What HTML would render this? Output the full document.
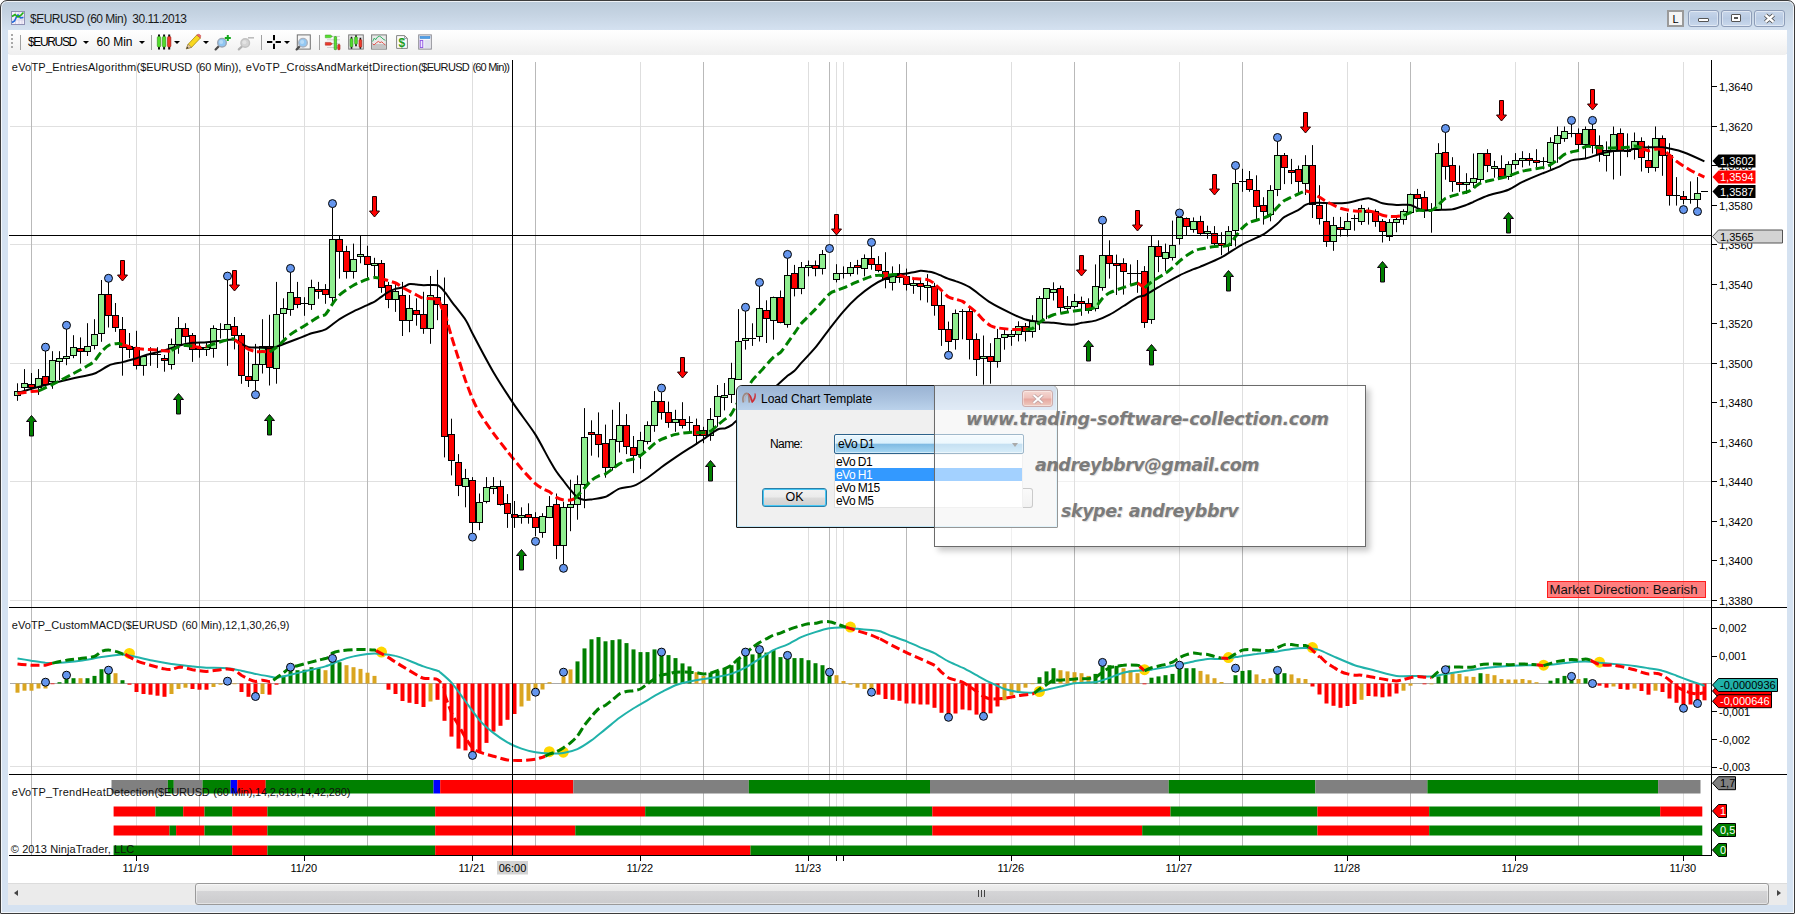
<!DOCTYPE html>
<html><head><meta charset="utf-8"><title>$EURUSD (60 Min)</title>
<style>
html,body{margin:0;padding:0;}
body{width:1795px;height:914px;overflow:hidden;background:#fff;position:relative;font-family:"Liberation Sans",sans-serif;}
#win{position:absolute;left:0;top:0;width:1793px;height:912px;border:1px solid #3c3c3c;border-radius:7px 7px 1px 1px;
 background:linear-gradient(#bacad9 0px,#c7d5e4 15px,#d5e2f1 30px,#d5e2f1 100%);box-shadow:inset 0 0 0 1px rgba(255,255,255,.75);}
#title{position:absolute;left:30px;top:10.5px;font-size:12px;color:#1a1a1a;white-space:pre;line-height:16px;letter-spacing:-0.5px;word-spacing:0px;}
#tb{position:absolute;left:8px;top:30px;width:1779px;height:25px;background:linear-gradient(#ffffff,#fbfbfb 30%,#efefef);border-radius:0 0 3px 3px;}
#chartbg{position:absolute;left:8px;top:54px;width:1779px;height:851px;background:#fff;}
.cb{position:absolute;top:10px;height:15px;border:1px solid #8d9db8;border-radius:3px;background:linear-gradient(#c7d6ea,#b9cbe3 50%,#c9d8ec);box-shadow:inset 0 0 0 1px rgba(255,255,255,.45);}
  .tbt{position:absolute;top:4px;font-size:12px;letter-spacing:-0.5px;line-height:16px;color:#000;white-space:pre;}
.sep{position:absolute;top:5px;width:1px;height:15px;background:#a0a0a0;}
.dd{position:absolute;top:11px;width:0;height:0;border-left:3px solid transparent;border-right:3px solid transparent;border-top:3px solid #000;}
svg{position:absolute;left:0;top:0;}
</style></head><body>
<div id="win"></div>
<div id="chartbg"></div>
<div id="tb"></div>
<svg style="left:11px;top:11px" width="14" height="14" viewBox="0 0 14 14"><rect x=".5" y=".5" width="13" height="13" fill="#f4f0fa" stroke="#8f90b4"/><path d="M4.5,1v12M8,1v12M11,1v12M1,5h12M1,9h12" stroke="#d8d4e8" stroke-width="1"/><path d="M1,11.5 L3.5,10 L5.5,6 L7,4 L9.5,7 L12.5,6.5" fill="none" stroke="#1e66d8" stroke-width="1.6"/><path d="M1,5.5 L4,3.5 L7,6 L9.5,4.5 L12.5,1.5" fill="none" stroke="#22b014" stroke-width="1.6"/></svg>
<div id="title">$EURUSD (60 Min)  30.11.2013</div>
<div style="position:absolute;left:1667px;top:10px;width:13px;height:13px;border:2px solid #9a9a9a;background:#f4f4f4;font-size:11px;line-height:15px;text-align:center;color:#000">L</div>
<div class="cb" style="left:1688px;width:29px"><div style="position:absolute;left:9px;top:7px;width:9px;height:2px;border:1px solid #555;background:#fff;border-radius:1px"></div></div>
<div class="cb" style="left:1721px;width:29px"><div style="position:absolute;left:9px;top:3px;width:8px;height:6px;border:1px solid #555;background:#fff;border-radius:1px"></div><div style="position:absolute;left:12px;top:6px;width:4px;height:2px;border:1px solid #555;box-sizing:border-box"></div></div>
<div class="cb" style="left:1754px;width:29px"><svg style="left:8px;top:2px" width="13" height="11" viewBox="0 0 13 11"><path d="M2.5,2 L10.5,9 M10.5,2 L2.5,9" stroke="#4a4a4a" stroke-width="4.2"/><path d="M2.5,2 L10.5,9 M10.5,2 L2.5,9" stroke="#fff" stroke-width="2.4"/></svg></div>
<div style="position:absolute;left:11px;top:34px;width:2px;height:16px;background:repeating-linear-gradient(#a8a8a8 0 2px,transparent 2px 4px)"></div>
<div class="sep" style="left:20px;top:35px"></div>
<div class="tbt" style="left:28px;top:34px;letter-spacing:-1.35px">$EURUSD</div><div class="dd" style="left:83px;top:41px"></div>
<div class="tbt" style="left:96.5px;top:34px;letter-spacing:0px">60 Min</div><div class="dd" style="left:139px;top:41px"></div>
<div class="sep" style="left:151px;top:35px"></div>
<svg width="460" height="60" viewBox="0 0 460 60"><path d="M159,34.5v15M164.1,34.5v15M169.2,34.5v15" stroke="#111" stroke-width="2"/><rect x="157.3" y="36.5" width="3.4" height="10.5" rx="1.2" fill="#52dd2c" stroke="#2f8a18" stroke-width=".6"/><rect x="162.4" y="36.5" width="3.4" height="10.5" rx="1.2" fill="#52dd2c" stroke="#2f8a18" stroke-width=".6"/><rect x="167.5" y="36.5" width="3.4" height="10.5" rx="1.2" fill="#ee3a2c" stroke="#9a1d12" stroke-width=".6"/><path d="M186.3,48.8 L188.2,44.2 L196.8,35 L200.4,38 L191.6,47.3 Z" fill="#f8d820" stroke="#a8860c" stroke-width=".8"/><path d="M196.8,35 L198,34.2 Q199.5,34 200.8,35.6 L200.4,38 Z" fill="#ef6a6a" stroke="#b44" stroke-width=".5"/><path d="M186.3,48.8 L188.2,44.2 L191.6,47.3 Z" fill="#e6c8a0" stroke="#7a6a4a" stroke-width=".5"/><path d="M186.3,48.8l1,-2.1 1.3,1.2z" fill="#333"/><path d="M215.6,49.4 L219,45.900000000000006" stroke="#4a4a4a" stroke-width="2.2" stroke-linecap="round"/><circle cx="222" cy="42.7" r="4.3" fill="#8fc6f2" stroke="#9aa4b4" stroke-width="1.4"/><circle cx="221.2" cy="41.900000000000006" r="2" fill="#fff" opacity=".35"/><path d="M227.8,35v6M224.8,38h6" stroke="#13a81c" stroke-width="2"/><path d="M238.8,49.4 L242.2,46.2" stroke="#b0b0b0" stroke-width="2.2" stroke-linecap="round"/><circle cx="245.2" cy="43" r="4.3" fill="#d4d4d4" stroke="#c2c2c2" stroke-width="1.4"/><circle cx="244.39999999999998" cy="42.2" r="2" fill="#fff" opacity=".35"/><path d="M248,37.8h6" stroke="#bdbdbd" stroke-width="1.6"/><path d="M267,42h5.3M275.6,42h5.3M274,35v5.3M274,43.8v5.3" stroke="#000" stroke-width="2"/><rect x="297.3" y="34.9" width="13" height="14.2" fill="#f6f6f6" stroke="#707070" stroke-width="1"/><path d="M296.6,49.4 L300,45.900000000000006" stroke="#4a4a4a" stroke-width="2.2" stroke-linecap="round"/><circle cx="303" cy="42.7" r="4.3" fill="#93c8f3" stroke="#a9b2c0" stroke-width="1.4"/><circle cx="302.2" cy="41.900000000000006" r="2" fill="#fff" opacity=".35"/><path d="M327,36.4h13M327,39.8h13M327,43.6h13M327,47.5h13" stroke="#d0d0d0" stroke-width="1"/><path d="M325.3,35 h5.2 l1.9,1.4 l-1.9,1.4 h-5.2 z" fill="#55e02f" stroke="#3a9a22" stroke-width=".5"/><path d="M325.3,42.4 h5.2 l1.9,1.4 l-1.9,1.4 h-5.2 z" fill="#ee3a2c" stroke="#a02218" stroke-width=".5"/><rect x="334.2" y="36.5" width="2.4" height="13.2" rx=".8" fill="#55e02f" stroke="#2f8a18" stroke-width=".6"/><rect x="337.8" y="44.5" width="2.2" height="5.2" rx=".6" fill="#ee3a2c" stroke="#9a1d12" stroke-width=".6"/><rect x="348.7" y="34.9" width="14.6" height="14.2" fill="#ececec" stroke="#7a7a7a" stroke-width="1"/><path d="M349.5,38h13M349.5,41h13M349.5,44h13M349.5,47h13" stroke="#d2d2d2" stroke-width=".8"/><path d="M351.5,36.8v12M356,35.2v11M360.4,37.8v11" stroke="#111" stroke-width="1.6"/><rect x="350.1" y="38.6" width="2.8" height="8.4" rx="1" fill="#52dd2c" stroke="#2f8a18" stroke-width=".5"/><rect x="354.6" y="36.8" width="2.8" height="7.4" rx="1" fill="#52dd2c" stroke="#2f8a18" stroke-width=".5"/><rect x="359" y="39.6" width="2.8" height="7.6" rx="1" fill="#ee3a2c" stroke="#9a1d12" stroke-width=".5"/><rect x="371.6" y="34.9" width="14.8" height="14.2" fill="#e9e9e9" stroke="#7d7d7d" stroke-width="1"/><rect x="372.2" y="44" width="13.6" height="4.6" fill="#c4c4c4"/><path d="M372.6,41.5 L374.4,38 L375.6,39.8 L377.6,37 L379.4,36.2 L381,37 L383,39 L385.4,40.4" fill="none" stroke="#3bb56a" stroke-width="1"/><path d="M372.6,43.6 L374,45 L376.6,42.6 L378.4,41.4 L380,42.6 L381.8,41.8 L383.6,43.6 L385.4,45" fill="none" stroke="#e4534c" stroke-width="1"/><path d="M396.6,35.6 h8 l2.8,2.8 v10 h-10.8 z" fill="#fcfcfc" stroke="#858585" stroke-width="1"/><path d="M404.6,35.6 v2.8 h2.8" fill="none" stroke="#858585" stroke-width=".8"/><text x="401.8" y="47" font-size="12" font-weight="bold" font-family="Liberation Sans, sans-serif" fill="#1f9c22" text-anchor="middle">$</text><rect x="418.7" y="34.9" width="12.6" height="14.2" fill="#f7f7fc" stroke="#8a8a92" stroke-width="1"/><rect x="420" y="36.2" width="10" height="2.5" fill="#4f9fe6" stroke="#3a7fc8" stroke-width=".4"/><rect x="420.2" y="40.4" width="2.6" height="7.2" fill="#efe6ff" stroke="#8a4fe0" stroke-width=".9"/><path d="M424.4,41h5.6M424.4,43h5.6M424.4,45h5.6M424.4,47h5.6" stroke="#c8cce4" stroke-width="1"/></svg><div class="dd" style="left:174px;top:41px"></div><div class="dd" style="left:203px;top:41px"></div>
<div class="sep" style="left:261px;top:35px"></div>
<div class="dd" style="left:284px;top:41px"></div>
<div class="sep" style="left:319px;top:35px"></div>


<svg width="1795" height="914" viewBox="0 0 1795 914" shape-rendering="auto"><line x1="10" y1="126.5" x2="1711.5" y2="126.5" stroke="#e0e0e0"/>
<line x1="10" y1="244.5" x2="1711.5" y2="244.5" stroke="#e0e0e0"/>
<line x1="10" y1="363.5" x2="1711.5" y2="363.5" stroke="#e0e0e0"/>
<line x1="10" y1="481.5" x2="1711.5" y2="481.5" stroke="#e0e0e0"/>
<line x1="10" y1="600.5" x2="1711.5" y2="600.5" stroke="#e0e0e0"/>
<line x1="10" y1="766.5" x2="1711.5" y2="766.5" stroke="#e0e0e0"/>
<line x1="136.5" y1="62" x2="136.5" y2="855" stroke="#dedede"/>
<line x1="304.5" y1="62" x2="304.5" y2="855" stroke="#dedede"/>
<line x1="472.5" y1="62" x2="472.5" y2="855" stroke="#dedede"/>
<line x1="640.5" y1="62" x2="640.5" y2="855" stroke="#dedede"/>
<line x1="808.5" y1="62" x2="808.5" y2="855" stroke="#dedede"/>
<line x1="836.5" y1="62" x2="836.5" y2="855" stroke="#dedede"/>
<line x1="843.5" y1="62" x2="843.5" y2="855" stroke="#dedede"/>
<line x1="1011.5" y1="62" x2="1011.5" y2="855" stroke="#dedede"/>
<line x1="1179.5" y1="62" x2="1179.5" y2="855" stroke="#dedede"/>
<line x1="1347.5" y1="62" x2="1347.5" y2="855" stroke="#dedede"/>
<line x1="1515.5" y1="62" x2="1515.5" y2="855" stroke="#dedede"/>
<line x1="1683.5" y1="62" x2="1683.5" y2="855" stroke="#dedede"/>
<line x1="31.5" y1="62" x2="31.5" y2="855" stroke="#b9b9b9"/>
<line x1="199.5" y1="62" x2="199.5" y2="855" stroke="#b9b9b9"/>
<line x1="367.5" y1="62" x2="367.5" y2="855" stroke="#b9b9b9"/>
<line x1="535.5" y1="62" x2="535.5" y2="855" stroke="#b9b9b9"/>
<line x1="703.5" y1="62" x2="703.5" y2="855" stroke="#b9b9b9"/>
<line x1="829.5" y1="62" x2="829.5" y2="855" stroke="#b9b9b9"/>
<line x1="906.5" y1="62" x2="906.5" y2="855" stroke="#b9b9b9"/>
<line x1="1074.5" y1="62" x2="1074.5" y2="855" stroke="#b9b9b9"/>
<line x1="1242.5" y1="62" x2="1242.5" y2="855" stroke="#b9b9b9"/>
<line x1="1410.5" y1="62" x2="1410.5" y2="855" stroke="#b9b9b9"/>
<line x1="1578.5" y1="62" x2="1578.5" y2="855" stroke="#b9b9b9"/>
<line x1="10" y1="683.5" x2="1711.5" y2="683.5" stroke="#a9a9a9"/>
<rect x="111.5" y="780" width="56.3" height="13.5" fill="#808080"/>
<rect x="167.8" y="780" width="6" height="13.5" fill="#008000"/>
<rect x="173.8" y="780" width="28.7" height="13.5" fill="#808080"/>
<rect x="202.5" y="780" width="28.1" height="13.5" fill="#008000"/>
<rect x="230.6" y="780" width="6.7" height="13.5" fill="#0000ff"/>
<rect x="237.3" y="780" width="28.4" height="13.5" fill="#ff0000"/>
<rect x="265.7" y="780" width="167.8" height="13.5" fill="#008000"/>
<rect x="433.5" y="780" width="6.7" height="13.5" fill="#0000ff"/>
<rect x="440.2" y="780" width="133.1" height="13.5" fill="#ff0000"/>
<rect x="573.3" y="780" width="175.5" height="13.5" fill="#808080"/>
<rect x="748.8" y="780" width="181.2" height="13.5" fill="#008000"/>
<rect x="930" y="780" width="238.7" height="13.5" fill="#808080"/>
<rect x="1168.7" y="780" width="146.6" height="13.5" fill="#008000"/>
<rect x="1315.3" y="780" width="112.1" height="13.5" fill="#808080"/>
<rect x="1427.4" y="780" width="230.7" height="13.5" fill="#008000"/>
<rect x="1658.1" y="780" width="42.4" height="13.5" fill="#808080"/>
<rect x="113.6" y="806.5" width="41.8" height="10" fill="#ff0000"/>
<rect x="155.4" y="806.5" width="27.8" height="10" fill="#008000"/>
<rect x="183.2" y="806.5" width="21.3" height="10" fill="#ff0000"/>
<rect x="204.5" y="806.5" width="27.8" height="10" fill="#008000"/>
<rect x="232.3" y="806.5" width="35.1" height="10" fill="#ff0000"/>
<rect x="267.4" y="806.5" width="167.8" height="10" fill="#008000"/>
<rect x="435.2" y="806.5" width="210" height="10" fill="#ff0000"/>
<rect x="645.2" y="806.5" width="287.1" height="10" fill="#008000"/>
<rect x="932.3" y="806.5" width="238.2" height="10" fill="#ff0000"/>
<rect x="1170.5" y="806.5" width="146.9" height="10" fill="#008000"/>
<rect x="1317.4" y="806.5" width="111.8" height="10" fill="#ff0000"/>
<rect x="1429.2" y="806.5" width="231" height="10" fill="#008000"/>
<rect x="1660.2" y="806.5" width="42.1" height="10" fill="#ff0000"/>
<rect x="113.6" y="825.5" width="55.9" height="10" fill="#ff0000"/>
<rect x="169.5" y="825.5" width="6.6" height="10" fill="#008000"/>
<rect x="176.1" y="825.5" width="28.4" height="10" fill="#ff0000"/>
<rect x="204.5" y="825.5" width="27.8" height="10" fill="#008000"/>
<rect x="232.3" y="825.5" width="35.1" height="10" fill="#ff0000"/>
<rect x="267.4" y="825.5" width="167.8" height="10" fill="#008000"/>
<rect x="435.2" y="825.5" width="140.1" height="10" fill="#ff0000"/>
<rect x="575.3" y="825.5" width="357" height="10" fill="#008000"/>
<rect x="932.3" y="825.5" width="209.9" height="10" fill="#ff0000"/>
<rect x="1142.2" y="825.5" width="175.2" height="10" fill="#008000"/>
<rect x="1317.4" y="825.5" width="111.8" height="10" fill="#ff0000"/>
<rect x="1429.2" y="825.5" width="273.1" height="10" fill="#008000"/>
<rect x="113.6" y="845.5" width="118.7" height="10" fill="#008000"/>
<rect x="232.3" y="845.5" width="35.1" height="10" fill="#ff0000"/>
<rect x="267.4" y="845.5" width="167.8" height="10" fill="#008000"/>
<rect x="435.2" y="845.5" width="315.3" height="10" fill="#ff0000"/>
<rect x="750.5" y="845.5" width="951.8" height="10" fill="#008000"/>
<rect x="15.5" y="683.5" width="4" height="9.2" fill="#daa520"/>
<rect x="22.5" y="683.5" width="4" height="7.2" fill="#daa520"/>
<rect x="29.5" y="683.5" width="4" height="7.2" fill="#daa520"/>
<rect x="36.5" y="683.5" width="4" height="5" fill="#daa520"/>
<rect x="43.5" y="683.5" width="4" height="5" fill="#daa520"/>
<rect x="50.5" y="683.5" width="4" height="0.7" fill="#ff0000"/>
<rect x="57.5" y="682.2" width="4" height="1.3" fill="#008000"/>
<rect x="64.5" y="679" width="4" height="4.5" fill="#008000"/>
<rect x="71.5" y="678.2" width="4" height="5.3" fill="#008000"/>
<rect x="78.5" y="678.2" width="4" height="5.3" fill="#daa520"/>
<rect x="85.5" y="678.2" width="4" height="5.3" fill="#008000"/>
<rect x="92.5" y="675.9" width="4" height="7.6" fill="#008000"/>
<rect x="99.5" y="669.2" width="4" height="14.3" fill="#008000"/>
<rect x="106.5" y="673.9" width="4" height="9.6" fill="#008000"/>
<rect x="113.5" y="673.2" width="4" height="10.3" fill="#daa520"/>
<rect x="120.5" y="680.2" width="4" height="3.3" fill="#008000"/>
<rect x="127.5" y="683.5" width="4" height="1.2" fill="#ff0000"/>
<rect x="134.5" y="683.5" width="4" height="8.5" fill="#ff0000"/>
<rect x="141.5" y="683.5" width="4" height="10.5" fill="#ff0000"/>
<rect x="148.5" y="683.5" width="4" height="11.2" fill="#ff0000"/>
<rect x="155.5" y="683.5" width="4" height="12.2" fill="#ff0000"/>
<rect x="162.5" y="683.5" width="4" height="13.3" fill="#ff0000"/>
<rect x="169.5" y="683.5" width="4" height="10.5" fill="#daa520"/>
<rect x="176.5" y="683.5" width="4" height="5.5" fill="#daa520"/>
<rect x="183.5" y="683.5" width="4" height="4.2" fill="#daa520"/>
<rect x="190.5" y="683.5" width="4" height="5.5" fill="#ff0000"/>
<rect x="197.5" y="683.5" width="4" height="6.2" fill="#ff0000"/>
<rect x="204.5" y="683.5" width="4" height="6.2" fill="#ff0000"/>
<rect x="211.5" y="683.5" width="4" height="3.5" fill="#daa520"/>
<rect x="218.5" y="683.5" width="4" height="1.2" fill="#daa520"/>
<rect x="232.5" y="683.5" width="4" height="0.7" fill="#daa520"/>
<rect x="239.5" y="683.5" width="4" height="8.5" fill="#ff0000"/>
<rect x="246.5" y="683.5" width="4" height="13.3" fill="#ff0000"/>
<rect x="253.5" y="683.5" width="4" height="11.7" fill="#ff0000"/>
<rect x="260.5" y="683.5" width="4" height="10.5" fill="#daa520"/>
<rect x="267.5" y="683.5" width="4" height="11.2" fill="#ff0000"/>
<rect x="274.5" y="683.5" width="4" height="1.2" fill="#ff0000"/>
<rect x="281.5" y="675.7" width="4" height="7.8" fill="#008000"/>
<rect x="288.5" y="670.7" width="4" height="12.8" fill="#008000"/>
<rect x="295.5" y="670.2" width="4" height="13.3" fill="#008000"/>
<rect x="302.5" y="669.7" width="4" height="13.8" fill="#008000"/>
<rect x="309.5" y="667.2" width="4" height="16.3" fill="#008000"/>
<rect x="316.5" y="668.2" width="4" height="15.3" fill="#008000"/>
<rect x="323.5" y="670.2" width="4" height="13.3" fill="#daa520"/>
<rect x="330.5" y="660.7" width="4" height="22.8" fill="#008000"/>
<rect x="337.5" y="662.2" width="4" height="21.3" fill="#008000"/>
<rect x="344.5" y="665.2" width="4" height="18.3" fill="#daa520"/>
<rect x="351.5" y="667.2" width="4" height="16.3" fill="#daa520"/>
<rect x="358.5" y="668.9" width="4" height="14.6" fill="#daa520"/>
<rect x="365.5" y="672.7" width="4" height="10.8" fill="#daa520"/>
<rect x="372.5" y="675.9" width="4" height="7.6" fill="#daa520"/>
<rect x="386.5" y="683.5" width="4" height="6.2" fill="#ff0000"/>
<rect x="393.5" y="683.5" width="4" height="10.5" fill="#ff0000"/>
<rect x="400.5" y="683.5" width="4" height="17.5" fill="#ff0000"/>
<rect x="407.5" y="683.5" width="4" height="19.3" fill="#ff0000"/>
<rect x="414.5" y="683.5" width="4" height="20.5" fill="#ff0000"/>
<rect x="421.5" y="683.5" width="4" height="23.5" fill="#ff0000"/>
<rect x="428.5" y="683.5" width="4" height="18" fill="#daa520"/>
<rect x="435.5" y="683.5" width="4" height="16.3" fill="#ff0000"/>
<rect x="442.5" y="683.5" width="4" height="37.3" fill="#ff0000"/>
<rect x="449.5" y="683.5" width="4" height="53.1" fill="#ff0000"/>
<rect x="456.5" y="683.5" width="4" height="65.1" fill="#ff0000"/>
<rect x="463.5" y="683.5" width="4" height="66.9" fill="#ff0000"/>
<rect x="470.5" y="683.5" width="4" height="69.4" fill="#ff0000"/>
<rect x="477.5" y="683.5" width="4" height="68.2" fill="#ff0000"/>
<rect x="484.5" y="683.5" width="4" height="59.4" fill="#ff0000"/>
<rect x="491.5" y="683.5" width="4" height="48.1" fill="#ff0000"/>
<rect x="498.5" y="683.5" width="4" height="42.3" fill="#ff0000"/>
<rect x="505.5" y="683.5" width="4" height="36.3" fill="#ff0000"/>
<rect x="512.5" y="683.5" width="4" height="30.5" fill="#ff0000"/>
<rect x="519.5" y="683.5" width="4" height="23" fill="#daa520"/>
<rect x="526.5" y="683.5" width="4" height="17.3" fill="#daa520"/>
<rect x="533.5" y="683.5" width="4" height="8" fill="#daa520"/>
<rect x="540.5" y="683.5" width="4" height="6" fill="#daa520"/>
<rect x="547.5" y="682.2" width="4" height="1.3" fill="#daa520"/>
<rect x="561.5" y="676.4" width="4" height="7.1" fill="#daa520"/>
<rect x="568.5" y="669.4" width="4" height="14.1" fill="#daa520"/>
<rect x="575.5" y="661.4" width="4" height="22.1" fill="#008000"/>
<rect x="582.5" y="648.4" width="4" height="35.1" fill="#008000"/>
<rect x="589.5" y="639.3" width="4" height="44.2" fill="#008000"/>
<rect x="596.5" y="637.1" width="4" height="46.4" fill="#008000"/>
<rect x="603.5" y="641.3" width="4" height="42.2" fill="#008000"/>
<rect x="610.5" y="640.1" width="4" height="43.4" fill="#008000"/>
<rect x="617.5" y="639.3" width="4" height="44.2" fill="#008000"/>
<rect x="624.5" y="643.1" width="4" height="40.4" fill="#008000"/>
<rect x="631.5" y="649.4" width="4" height="34.1" fill="#008000"/>
<rect x="638.5" y="652.1" width="4" height="31.4" fill="#008000"/>
<rect x="645.5" y="652.1" width="4" height="31.4" fill="#008000"/>
<rect x="652.5" y="649.4" width="4" height="34.1" fill="#008000"/>
<rect x="659.5" y="652.6" width="4" height="30.9" fill="#008000"/>
<rect x="666.5" y="655.1" width="4" height="28.4" fill="#008000"/>
<rect x="673.5" y="658.1" width="4" height="25.4" fill="#008000"/>
<rect x="680.5" y="663.4" width="4" height="20.1" fill="#008000"/>
<rect x="687.5" y="666.4" width="4" height="17.1" fill="#008000"/>
<rect x="694.5" y="672.2" width="4" height="11.3" fill="#daa520"/>
<rect x="701.5" y="675.9" width="4" height="7.6" fill="#daa520"/>
<rect x="708.5" y="672.7" width="4" height="10.8" fill="#008000"/>
<rect x="715.5" y="670.7" width="4" height="12.8" fill="#008000"/>
<rect x="722.5" y="668.2" width="4" height="15.3" fill="#008000"/>
<rect x="729.5" y="665.2" width="4" height="18.3" fill="#008000"/>
<rect x="736.5" y="658.9" width="4" height="24.6" fill="#008000"/>
<rect x="743.5" y="653.9" width="4" height="29.6" fill="#008000"/>
<rect x="750.5" y="654.4" width="4" height="29.1" fill="#008000"/>
<rect x="757.5" y="651.4" width="4" height="32.1" fill="#008000"/>
<rect x="764.5" y="652.6" width="4" height="30.9" fill="#008000"/>
<rect x="771.5" y="650.1" width="4" height="33.4" fill="#008000"/>
<rect x="778.5" y="657.1" width="4" height="26.4" fill="#008000"/>
<rect x="785.5" y="656.4" width="4" height="27.1" fill="#008000"/>
<rect x="792.5" y="658.1" width="4" height="25.4" fill="#008000"/>
<rect x="799.5" y="658.1" width="4" height="25.4" fill="#008000"/>
<rect x="806.5" y="660.2" width="4" height="23.3" fill="#008000"/>
<rect x="813.5" y="663.2" width="4" height="20.3" fill="#008000"/>
<rect x="820.5" y="665.2" width="4" height="18.3" fill="#008000"/>
<rect x="827.5" y="670.2" width="4" height="13.3" fill="#008000"/>
<rect x="834.5" y="675.2" width="4" height="8.3" fill="#daa520"/>
<rect x="841.5" y="681" width="4" height="2.5" fill="#daa520"/>
<rect x="848.5" y="683.5" width="4" height="1.2" fill="#daa520"/>
<rect x="855.5" y="683.5" width="4" height="4.2" fill="#daa520"/>
<rect x="862.5" y="683.5" width="4" height="5.5" fill="#daa520"/>
<rect x="869.5" y="683.5" width="4" height="6.7" fill="#daa520"/>
<rect x="876.5" y="683.5" width="4" height="11.2" fill="#ff0000"/>
<rect x="883.5" y="683.5" width="4" height="15.5" fill="#ff0000"/>
<rect x="890.5" y="683.5" width="4" height="16.3" fill="#ff0000"/>
<rect x="897.5" y="683.5" width="4" height="17.3" fill="#ff0000"/>
<rect x="904.5" y="683.5" width="4" height="20" fill="#ff0000"/>
<rect x="911.5" y="683.5" width="4" height="20" fill="#ff0000"/>
<rect x="918.5" y="683.5" width="4" height="21" fill="#ff0000"/>
<rect x="925.5" y="683.5" width="4" height="21" fill="#ff0000"/>
<rect x="932.5" y="683.5" width="4" height="24.3" fill="#ff0000"/>
<rect x="939.5" y="683.5" width="4" height="29.3" fill="#ff0000"/>
<rect x="946.5" y="683.5" width="4" height="30.5" fill="#ff0000"/>
<rect x="953.5" y="683.5" width="4" height="30" fill="#ff0000"/>
<rect x="960.5" y="683.5" width="4" height="26" fill="#ff0000"/>
<rect x="967.5" y="683.5" width="4" height="26.8" fill="#ff0000"/>
<rect x="974.5" y="683.5" width="4" height="31.1" fill="#ff0000"/>
<rect x="981.5" y="683.5" width="4" height="30.5" fill="#ff0000"/>
<rect x="988.5" y="683.5" width="4" height="29.8" fill="#ff0000"/>
<rect x="995.5" y="683.5" width="4" height="23" fill="#ff0000"/>
<rect x="1002.5" y="683.5" width="4" height="16.8" fill="#daa520"/>
<rect x="1009.5" y="683.5" width="4" height="11.7" fill="#daa520"/>
<rect x="1016.5" y="683.5" width="4" height="8" fill="#daa520"/>
<rect x="1023.5" y="683.5" width="4" height="4.2" fill="#daa520"/>
<rect x="1030.5" y="683.5" width="4" height="0.7" fill="#daa520"/>
<rect x="1037.5" y="677.2" width="4" height="6.3" fill="#008000"/>
<rect x="1044.5" y="671.4" width="4" height="12.1" fill="#008000"/>
<rect x="1051.5" y="668.2" width="4" height="15.3" fill="#008000"/>
<rect x="1058.5" y="670.2" width="4" height="13.3" fill="#daa520"/>
<rect x="1065.5" y="671.4" width="4" height="12.1" fill="#daa520"/>
<rect x="1072.5" y="672.2" width="4" height="11.3" fill="#daa520"/>
<rect x="1079.5" y="673.2" width="4" height="10.3" fill="#daa520"/>
<rect x="1086.5" y="675.9" width="4" height="7.6" fill="#daa520"/>
<rect x="1093.5" y="673.9" width="4" height="9.6" fill="#008000"/>
<rect x="1100.5" y="665.2" width="4" height="18.3" fill="#008000"/>
<rect x="1107.5" y="665.2" width="4" height="18.3" fill="#008000"/>
<rect x="1114.5" y="665.9" width="4" height="17.6" fill="#008000"/>
<rect x="1121.5" y="668.2" width="4" height="15.3" fill="#daa520"/>
<rect x="1128.5" y="670.2" width="4" height="13.3" fill="#daa520"/>
<rect x="1135.5" y="673.2" width="4" height="10.3" fill="#daa520"/>
<rect x="1142.5" y="683.5" width="4" height="0.8" fill="#ff0000"/>
<rect x="1149.5" y="677.7" width="4" height="5.8" fill="#008000"/>
<rect x="1156.5" y="676.4" width="4" height="7.1" fill="#008000"/>
<rect x="1163.5" y="675.2" width="4" height="8.3" fill="#008000"/>
<rect x="1170.5" y="673.9" width="4" height="9.6" fill="#008000"/>
<rect x="1177.5" y="667.7" width="4" height="15.8" fill="#008000"/>
<rect x="1184.5" y="668.2" width="4" height="15.3" fill="#008000"/>
<rect x="1191.5" y="668.2" width="4" height="15.3" fill="#008000"/>
<rect x="1198.5" y="670.9" width="4" height="12.6" fill="#daa520"/>
<rect x="1205.5" y="674.4" width="4" height="9.1" fill="#daa520"/>
<rect x="1212.5" y="678.2" width="4" height="5.3" fill="#daa520"/>
<rect x="1219.5" y="682" width="4" height="1.5" fill="#daa520"/>
<rect x="1233.5" y="675.2" width="4" height="8.3" fill="#008000"/>
<rect x="1240.5" y="670.9" width="4" height="12.6" fill="#008000"/>
<rect x="1247.5" y="670.2" width="4" height="13.3" fill="#008000"/>
<rect x="1254.5" y="674.4" width="4" height="9.1" fill="#daa520"/>
<rect x="1261.5" y="679" width="4" height="4.5" fill="#daa520"/>
<rect x="1268.5" y="678.2" width="4" height="5.3" fill="#daa520"/>
<rect x="1275.5" y="673.2" width="4" height="10.3" fill="#008000"/>
<rect x="1282.5" y="673.2" width="4" height="10.3" fill="#008000"/>
<rect x="1289.5" y="674.4" width="4" height="9.1" fill="#daa520"/>
<rect x="1296.5" y="678.2" width="4" height="5.3" fill="#daa520"/>
<rect x="1303.5" y="679" width="4" height="4.5" fill="#daa520"/>
<rect x="1310.5" y="683.5" width="4" height="3" fill="#ff0000"/>
<rect x="1317.5" y="683.5" width="4" height="11" fill="#ff0000"/>
<rect x="1324.5" y="683.5" width="4" height="20" fill="#ff0000"/>
<rect x="1331.5" y="683.5" width="4" height="22.3" fill="#ff0000"/>
<rect x="1338.5" y="683.5" width="4" height="24.3" fill="#ff0000"/>
<rect x="1345.5" y="683.5" width="4" height="22.5" fill="#ff0000"/>
<rect x="1352.5" y="683.5" width="4" height="20.5" fill="#ff0000"/>
<rect x="1359.5" y="683.5" width="4" height="16.3" fill="#daa520"/>
<rect x="1366.5" y="683.5" width="4" height="12.5" fill="#ff0000"/>
<rect x="1373.5" y="683.5" width="4" height="13" fill="#ff0000"/>
<rect x="1380.5" y="683.5" width="4" height="13.8" fill="#ff0000"/>
<rect x="1387.5" y="683.5" width="4" height="13" fill="#ff0000"/>
<rect x="1394.5" y="683.5" width="4" height="10" fill="#ff0000"/>
<rect x="1401.5" y="683.5" width="4" height="7.2" fill="#daa520"/>
<rect x="1408.5" y="683.5" width="4" height="2.2" fill="#daa520"/>
<rect x="1422.5" y="683.5" width="4" height="0.8" fill="#ff0000"/>
<rect x="1429.5" y="683.5" width="4" height="0.8" fill="#daa520"/>
<rect x="1436.5" y="676.4" width="4" height="7.1" fill="#008000"/>
<rect x="1443.5" y="672.2" width="4" height="11.3" fill="#008000"/>
<rect x="1450.5" y="673.2" width="4" height="10.3" fill="#daa520"/>
<rect x="1457.5" y="673.9" width="4" height="9.6" fill="#daa520"/>
<rect x="1464.5" y="676.4" width="4" height="7.1" fill="#daa520"/>
<rect x="1471.5" y="676.9" width="4" height="6.6" fill="#daa520"/>
<rect x="1478.5" y="673.2" width="4" height="10.3" fill="#008000"/>
<rect x="1485.5" y="673.9" width="4" height="9.6" fill="#daa520"/>
<rect x="1492.5" y="675.2" width="4" height="8.3" fill="#daa520"/>
<rect x="1499.5" y="679" width="4" height="4.5" fill="#daa520"/>
<rect x="1506.5" y="679.5" width="4" height="4" fill="#daa520"/>
<rect x="1513.5" y="679.5" width="4" height="4" fill="#daa520"/>
<rect x="1520.5" y="679" width="4" height="4.5" fill="#daa520"/>
<rect x="1527.5" y="680.2" width="4" height="3.3" fill="#daa520"/>
<rect x="1534.5" y="682.2" width="4" height="1.3" fill="#daa520"/>
<rect x="1548.5" y="680.7" width="4" height="2.8" fill="#008000"/>
<rect x="1555.5" y="678.2" width="4" height="5.3" fill="#008000"/>
<rect x="1562.5" y="675.9" width="4" height="7.6" fill="#008000"/>
<rect x="1569.5" y="677.7" width="4" height="5.8" fill="#008000"/>
<rect x="1576.5" y="679" width="4" height="4.5" fill="#daa520"/>
<rect x="1583.5" y="678.2" width="4" height="5.3" fill="#008000"/>
<rect x="1597.5" y="683.5" width="4" height="2.2" fill="#ff0000"/>
<rect x="1604.5" y="683.5" width="4" height="4.2" fill="#ff0000"/>
<rect x="1611.5" y="683.5" width="4" height="3" fill="#daa520"/>
<rect x="1618.5" y="683.5" width="4" height="5.5" fill="#ff0000"/>
<rect x="1625.5" y="683.5" width="4" height="6.2" fill="#ff0000"/>
<rect x="1632.5" y="683.5" width="4" height="5" fill="#daa520"/>
<rect x="1639.5" y="683.5" width="4" height="7.5" fill="#ff0000"/>
<rect x="1646.5" y="683.5" width="4" height="11.2" fill="#ff0000"/>
<rect x="1653.5" y="683.5" width="4" height="7.2" fill="#daa520"/>
<rect x="1660.5" y="683.5" width="4" height="8.5" fill="#ff0000"/>
<rect x="1667.5" y="683.5" width="4" height="15" fill="#ff0000"/>
<rect x="1674.5" y="683.5" width="4" height="19.3" fill="#ff0000"/>
<rect x="1681.5" y="683.5" width="4" height="21.8" fill="#ff0000"/>
<rect x="1688.5" y="683.5" width="4" height="21" fill="#ff0000"/>
<rect x="1695.5" y="683.5" width="4" height="18" fill="#ff0000"/>
<rect x="1702.5" y="683.5" width="4" height="16.8" fill="#ff0000"/>
<circle cx="129.4" cy="653.4" r="5.5" fill="#ffd700"/>
<circle cx="381.5" cy="652.1" r="5.5" fill="#ffd700"/>
<circle cx="549.3" cy="751.7" r="5.5" fill="#ffd700"/>
<circle cx="563.3" cy="752.2" r="5.5" fill="#ffd700"/>
<circle cx="850.4" cy="627.1" r="5.5" fill="#ffd700"/>
<circle cx="1039.4" cy="691.5" r="5.5" fill="#ffd700"/>
<circle cx="1144.5" cy="669.7" r="5.5" fill="#ffd700"/>
<circle cx="1228.5" cy="657.6" r="5.5" fill="#ffd700"/>
<circle cx="1312.4" cy="647.6" r="5.5" fill="#ffd700"/>
<circle cx="1543.6" cy="665.2" r="5.5" fill="#ffd700"/>
<circle cx="1599.5" cy="662.2" r="5.5" fill="#ffd700"/>
<path d="M17.5,658.4 C19.3,658.7 27.9,660.1 31.3,660.7 C34.8,661.2 41.9,662.4 45.4,662.7 C48.9,662.9 55,662.9 59.4,662.7 C63.8,662.4 75.2,661.3 80.5,660.7 C85.7,660 96.3,657.9 101.5,657.1 C106.8,656.4 118.2,654.4 122.6,654.4 C126.9,654.4 132.9,656.2 136.4,656.9 C139.9,657.6 146,659.3 150.4,660.2 C154.8,661 166.2,663.1 171.5,663.9 C176.7,664.7 188.2,665.9 192.5,666.4 C196.9,666.9 202,667.5 206.3,667.7 C210.7,667.9 223,667.8 227.4,668.2 C231.8,668.5 237.9,670 241.4,670.7 C244.9,671.4 251.9,673.2 255.5,673.9 C259,674.7 266.9,676 269.5,676.4 C272.1,676.9 273.9,677.9 276.5,677.7 C279.1,677.5 287.1,675.5 290.5,674.7 C294,673.9 300,672.5 304.3,671.4 C308.7,670.4 321,667.8 325.4,666.4 C329.8,665.1 335.9,661.9 339.4,660.7 C342.9,659.4 350,657.2 353.5,656.4 C357,655.5 364,654.2 367.5,653.9 C371,653.6 378.1,653.6 381.5,653.9 C385,654.1 391.9,655 395.3,655.9 C398.8,656.7 405.9,659.3 409.4,660.7 C412.9,662 419.9,665.2 423.4,666.4 C426.9,667.7 435.4,670 437.5,670.7 C439.5,671.4 438.2,670.7 440,672.2 C441.8,673.7 448.3,679 451.5,682.7 C454.7,686.4 462.1,696.8 465.6,701.5 C469.1,706.2 476.1,716.4 479.6,720.3 C483.1,724.2 489.9,730.1 493.4,732.9 C496.9,735.6 503.9,740.4 507.4,742.4 C510.9,744.4 518,747.4 521.5,748.6 C525,749.9 532,751.6 535.5,752.2 C539,752.8 545.8,753.3 549.3,753.4 C552.8,753.5 559.8,753.4 563.3,752.9 C566.8,752.4 573.9,750.7 577.4,749.1 C580.9,747.6 587.9,742.9 591.4,740.4 C594.9,737.9 601.9,731.9 605.5,729.1 C609,726.3 616,720.4 619.5,717.8 C623,715.2 629.8,710.7 633.3,708.5 C636.8,706.3 643.8,702.3 647.3,700.3 C650.8,698.2 657.8,694.1 661.4,692.2 C664.9,690.4 671.9,686.6 675.4,685.2 C678.9,683.9 685.9,682.2 689.4,681.5 C692.9,680.7 700,679.5 703.5,679 C707,678.4 713.8,677.6 717.3,676.9 C720.7,676.3 727.8,675.1 731.3,673.9 C734.8,672.8 741.8,669.6 745.3,667.7 C748.8,665.8 755.9,661.1 759.4,658.9 C762.9,656.7 769.9,651.9 773.4,650.1 C776.9,648.3 783.7,646.2 787.2,644.6 C790.7,643 797.7,638.7 801.2,637.1 C804.8,635.5 811.8,633.2 815.3,632.1 C818.8,631 825.8,628.9 829.3,628.3 C832.8,627.8 839.8,627.5 843.4,627.6 C846.9,627.6 853.9,628.5 857.4,628.8 C860.9,629.1 868.4,629.8 871.2,630.1 C874,630.4 877.3,630.5 880,631.3 C882.7,632.1 889.2,635.1 892.5,636.3 C895.9,637.6 903.1,639.9 906.6,641.3 C910.1,642.8 917.1,646.1 920.6,647.6 C924.1,649.1 930.9,651.4 934.4,653.1 C937.9,654.9 944.9,659.6 948.4,661.4 C951.9,663.2 959,665.9 962.5,667.7 C966,669.4 973,673.3 976.5,675.2 C980,677.1 987,681 990.6,682.7 C994.1,684.4 1001.1,687.8 1004.6,689 C1008.1,690.1 1014.9,691.5 1018.4,692 C1021.9,692.5 1028.9,693 1032.4,692.7 C1035.9,692.5 1042.9,690.5 1046.5,689.7 C1050,688.9 1057,687.3 1060.5,686.5 C1064,685.7 1070.1,683.8 1074.5,683.2 C1078.9,682.7 1091.2,682.7 1095.6,682 C1100,681.3 1106.2,678.9 1109.6,677.7 C1113.1,676.5 1119.9,673.6 1123.4,672.7 C1126.9,671.8 1133.9,671.1 1137.5,670.7 C1141,670.3 1148,670.1 1151.5,669.7 C1155,669.2 1162,667.8 1165.5,667.2 C1169,666.5 1176.1,665.1 1179.6,664.4 C1183.1,663.7 1190.1,662.1 1193.6,661.4 C1197.1,660.7 1204.2,659.2 1207.7,658.9 C1211.1,658.6 1218,659.1 1221.4,658.9 C1224.9,658.7 1232.8,657.5 1235.5,657.1 C1238.1,656.8 1239.9,656.3 1242.5,655.9 C1245.1,655.5 1252.1,654.4 1256.5,653.9 C1260.9,653.3 1273.2,652 1277.6,651.4 C1282,650.8 1288.2,649.3 1291.6,648.9 C1295.1,648.5 1301.9,648 1305.4,648.1 C1308.9,648.3 1315.9,649.1 1319.5,650.1 C1323,651.2 1329.1,654.5 1333.5,656.4 C1337.9,658.3 1349.4,663.4 1354.6,665.2 C1359.8,667 1370.2,669.3 1375.4,670.7 C1380.6,672 1391.2,675.3 1396.5,675.9 C1401.7,676.6 1413.1,675.9 1417.5,675.9 C1421.9,676 1428,676.7 1431.6,676.4 C1435.1,676.2 1441.2,674.7 1445.6,673.9 C1450,673.2 1461.2,671.5 1466.4,670.7 C1471.6,669.9 1482.2,668.3 1487.5,667.7 C1492.7,667.1 1503.3,666.2 1508.5,665.9 C1513.8,665.6 1525.2,665.3 1529.6,665.2 C1534,665.1 1540.1,665.3 1543.6,665.2 C1547.1,665 1553.9,664.3 1557.4,663.9 C1560.9,663.5 1567.9,662.5 1571.4,662.2 C1575,661.8 1582,661.3 1585.5,661.4 C1589,661.5 1596,662.3 1599.5,662.7 C1603,663 1609.2,663.5 1613.6,663.9 C1617.9,664.3 1630,665.4 1634.4,665.9 C1638.7,666.5 1644.9,667.6 1648.4,668.2 C1651.9,668.8 1658.9,669.7 1662.4,670.7 C1666,671.6 1673,674.4 1676.5,675.7 C1680,677 1687,679.7 1690.5,681 C1694,682.2 1702.8,685.1 1704.6,685.7" fill="none" stroke="#20b2aa" stroke-width="2"/>
<path d="M17.5,663.9 C19.3,664.1 27.9,665 31.3,665.2 C34.8,665.3 42.7,665.4 45.4,665.2 C48,664.9 51.5,663.4 52.4,663.2" fill="none" stroke="#ff0000" stroke-width="3" stroke-dasharray="9 4"/>
<path d="M52.4,663.2 C54.1,662.8 62.9,660.7 66.4,660.2 C69.9,659.6 77,658.9 80.5,658.4 C84,657.9 91.9,657.3 94.5,656.4 C97.1,655.5 99.8,652.2 101.5,651.4 C103.3,650.6 106.8,650.1 108.5,650.1 C110.3,650.1 113.8,650.9 115.6,651.4 C117.3,651.8 121.4,653.5 122.6,653.9 C123.8,654.3 125,654.3 125.3,654.4" fill="none" stroke="#008000" stroke-width="3" stroke-dasharray="9 4"/>
<path d="M125.3,654.4 C126.7,655.2 133.2,659.3 136.4,660.7 C139.5,662 146.9,664.1 150.4,665.2 C153.9,666.2 161.8,668.4 164.5,668.9 C167.1,669.5 169.5,669.7 171.5,669.4 C173.5,669.2 177.9,666.9 180.5,666.9 C183.1,667 189.3,669.1 192.5,669.7 C195.8,670.2 202.8,671.4 206.3,671.4 C209.8,671.4 217.7,670 220.4,669.7 C223,669.4 225.6,668.9 227.4,668.9 C229.1,669 232.6,669.4 234.4,670.2 C236.1,671 239.7,674.1 241.4,675.2 C243.2,676.3 246.7,678.2 248.4,679 C250.2,679.7 253.7,681.3 255.5,681.5 C257.2,681.6 260.7,680.2 262.5,680.2 C264.2,680.2 268.1,681.5 269.5,681.5 C270.8,681.5 272.8,680.4 273.3,680.2" fill="none" stroke="#ff0000" stroke-width="3" stroke-dasharray="9 4"/>
<path d="M273.3,680.2 C274.5,679.3 281.4,674.3 283.5,672.7 C285.7,671.1 287.9,668.8 290.5,667.7 C293.1,666.6 300.9,664.9 304.3,663.9 C307.8,663 315.4,660.9 318.4,660.2 C321.4,659.4 326.6,658.5 328.4,657.6 C330.2,656.8 331,654 332.4,653.1 C333.8,652.3 336.8,651.3 339.4,650.9 C342.1,650.4 350,649.8 353.5,649.6 C357,649.5 364.9,649.6 367.5,649.6 C370.1,649.7 373.5,650 374.5,650.1 C375.6,650.2 375.8,650.6 376,650.6" fill="none" stroke="#008000" stroke-width="3" stroke-dasharray="9 4"/>
<path d="M376,650.6 C377.6,651.5 385.3,655.7 388.6,657.6 C391.9,659.6 398.9,664.3 402.4,666.4 C405.8,668.5 413.8,673.2 416.4,674.7 C419,676.2 420.8,677.6 423.4,678.2 C426,678.8 434.8,678.3 437.5,679.5 C440.1,680.6 443.6,686.7 444.5,687.7" fill="none" stroke="#ff0000" stroke-width="3" stroke-dasharray="9 4"/>
<path d="M444.5,694 C445.4,696.3 449.8,708.9 451.5,712.8 C453.3,716.7 456.8,722.2 458.6,725.3 C460.3,728.5 463.8,735 465.6,737.9 C467.3,740.7 470.8,746.1 472.6,747.9 C474.3,749.7 477,751.1 479.6,752.2 C482.2,753.2 489.9,755.2 493.4,756.2 C496.9,757.1 503.9,759.4 507.4,759.9 C510.9,760.5 518,760.5 521.5,760.4 C525,760.3 532.9,759.6 535.5,759.2 C538.1,758.8 541.3,757.5 542.5,757.2 C543.8,756.8 544.9,756.3 545.3,756.2" fill="none" stroke="#ff0000" stroke-width="3" stroke-dasharray="9 4"/>
<path d="M545.3,756.2 C545.8,755.9 547.9,754.7 549.3,754.2 C550.7,753.6 554.6,752.4 556.3,751.7 C558.1,750.9 561.6,749 563.3,747.9 C565.1,746.8 568.6,744.4 570.4,742.9 C572.1,741.4 575.6,738.3 577.4,736.1 C579.1,733.9 582.6,727.8 584.4,725.3 C586.2,722.9 589.7,718.6 591.4,716.6 C593.2,714.5 596.7,710.4 598.4,709 C600.2,707.6 603.7,706.4 605.5,705.3 C607.2,704.1 610.7,701.2 612.5,699.8 C614.2,698.4 617.8,695 619.5,694 C621.2,693 624.5,691.9 626.3,691.5 C628,691.1 631.5,691 633.3,690.7 C635,690.4 638.5,689.8 640.3,689 C642.1,688.1 645.6,685.2 647.3,684 C649.1,682.7 652.6,680.1 654.3,679 C656.1,677.9 659.6,675.8 661.4,675.2 C663.1,674.6 666.6,674.3 668.4,673.9 C670.1,673.6 672.8,672.4 675.4,672.2 C678,672 686.8,672.1 689.4,672.2 C692.1,672.2 694.7,672.5 696.5,672.7 C698.2,672.9 701.8,673.9 703.5,673.9 C705.2,674 708.5,673.6 710.2,673.2 C712,672.8 715.5,671.2 717.3,670.7 C719,670.1 722.5,669.6 724.3,668.9 C726,668.2 729.5,666.4 731.3,665.2 C733.1,663.9 736.6,660.3 738.3,658.9 C740.1,657.5 743.6,655.3 745.3,653.9 C747.1,652.5 750.6,649 752.4,647.6 C754.1,646.2 757.6,643.7 759.4,642.6 C761.1,641.5 764.6,639.8 766.4,638.8 C768.2,637.9 771.7,635.8 773.4,635.1 C775.2,634.4 778.7,633.7 780.4,633.1 C782.2,632.5 784.6,631 787.2,630.1 C789.8,629.1 798.6,626.3 801.2,625.6 C803.9,624.8 806.5,624.1 808.3,623.8 C810,623.5 813.5,623.6 815.3,623.3 C817,623 820.5,622 822.3,621.8 C824.1,621.6 827.6,621.5 829.3,621.8 C831.1,622 834.6,623.2 836.3,623.8 C838.1,624.4 842.1,625.9 843.4,626.3 C844.6,626.7 845.8,627 846.1,627.1" fill="none" stroke="#008000" stroke-width="3" stroke-dasharray="9 4"/>
<path d="M846.1,627.1 C847.5,627.5 854.3,629.8 857.4,630.8 C860.5,631.8 868.2,634 871.2,635.1 C874.2,636.2 880,639 881.2,639.6" fill="none" stroke="#ff0000" stroke-width="3" stroke-dasharray="9 4"/>
<path d="M880,638.8 C881.6,639.7 889.2,643.9 892.5,645.6 C895.9,647.3 903.1,651 906.6,652.6 C910.1,654.3 917.1,657.3 920.6,658.9 C924.1,660.5 931.8,663.5 934.4,665.2 C937,666.8 939.7,670.6 941.4,672.2 C943.2,673.8 946.7,676.7 948.4,677.7 C950.2,678.7 953.7,679.6 955.5,680.2 C957.2,680.8 960.7,681.4 962.5,682.2 C964.2,683 967.7,685.3 969.5,686.5 C971.3,687.6 974.8,690.2 976.5,691.5 C978.3,692.7 981.8,695.6 983.5,696.5 C985.3,697.4 987.9,698.8 990.6,699 C993.2,699.2 1001.1,698.7 1004.6,698.3 C1008.1,697.8 1014.9,696.3 1018.4,695.7 C1021.9,695.2 1030.4,694.3 1032.4,694 C1034.4,693.7 1034,693.3 1034.2,693.2" fill="none" stroke="#ff0000" stroke-width="3" stroke-dasharray="9 4"/>
<path d="M1034.2,693.2 C1034.8,692.7 1037.9,690 1039.4,689 C1041,687.9 1044.7,685.8 1046.5,684.7 C1048.2,683.6 1051.7,680.8 1053.5,680.2 C1055.2,679.6 1057.9,680.4 1060.5,680.2 C1063.1,680.1 1071,679.2 1074.5,679 C1078,678.7 1085.9,678.7 1088.6,678.5 C1091.2,678.2 1093.8,678 1095.6,677.2 C1097.3,676.4 1100.9,673.4 1102.6,672.2 C1104.4,671 1107.9,668.4 1109.6,667.7 C1111.4,667 1114.9,666.7 1116.7,666.4 C1118.4,666.1 1120.8,665.3 1123.4,665.2 C1126,665 1135.5,665 1137.5,665.2 C1139.5,665.3 1139.2,666.3 1139.5,666.4" fill="none" stroke="#008000" stroke-width="3" stroke-dasharray="9 4"/>
<path d="M1139.5,666.4 L1144.5,670.7" fill="none" stroke="#ff0000" stroke-width="3" stroke-dasharray="9 4"/>
<path d="M1144.5,670.7 C1145.4,670.3 1148.9,668.5 1151.5,667.7 C1154.1,666.9 1162.9,665.1 1165.5,664.4 C1168.2,663.7 1170.8,663 1172.6,662.2 C1174.3,661.3 1177.8,658.6 1179.6,657.6 C1181.3,656.7 1184.8,655.2 1186.6,654.6 C1188.3,654.1 1191.9,653.2 1193.6,653.1 C1195.4,653 1198.9,653.7 1200.6,653.9 C1202.4,654 1205.9,654.1 1207.7,654.4 C1209.4,654.7 1212.7,655.9 1214.4,656.4 C1216.1,656.9 1220.6,657.9 1221.4,658.1" fill="none" stroke="#008000" stroke-width="3" stroke-dasharray="9 4"/>
<path d="M1221.4,658.1 L1228.5,658.4" fill="none" stroke="#ff0000" stroke-width="3" stroke-dasharray="9 4"/>
<path d="M1228.5,658.4 C1229.3,657.8 1233.7,654.9 1235.5,653.9 C1237.2,652.9 1240.7,650.7 1242.5,650.1 C1244.3,649.6 1247.8,649.6 1249.5,649.6 C1251.3,649.6 1253.9,650 1256.5,650.1 C1259.2,650.2 1267.9,650.9 1270.6,650.6 C1273.2,650.3 1275.8,648.4 1277.6,647.6 C1279.3,646.9 1282.9,645 1284.6,644.6 C1286.4,644.2 1289.9,644.5 1291.6,644.6 C1293.4,644.7 1296.7,645.5 1298.4,645.6 C1300.1,645.7 1304.1,645.5 1305.4,645.6 C1306.7,645.8 1308.3,646.7 1308.7,646.9" fill="none" stroke="#008000" stroke-width="3" stroke-dasharray="9 4"/>
<path d="M1308.7,646.9 C1309.1,647.3 1311.1,648.8 1312.4,650.1 C1313.8,651.4 1318.6,656.3 1319.5,657.1" fill="none" stroke="#ff0000" stroke-width="3" stroke-dasharray="9 4"/>
<path d="M1320,656.4 C1320.8,657.2 1324.8,661.3 1326.5,662.7 C1328.2,664 1331.8,666.1 1333.5,667.2 C1335.3,668.3 1338.8,670.6 1340.6,671.4 C1342.3,672.3 1345.8,673.5 1347.6,673.9 C1349.3,674.4 1352.8,675 1354.6,675.2 C1356.3,675.3 1359,674.9 1361.6,675.2 C1364.2,675.5 1371.9,677.1 1375.4,677.7 C1378.9,678.3 1386.8,679.8 1389.4,680.2 C1392.1,680.6 1394.7,681.1 1396.5,681 C1398.2,680.9 1401.7,679.9 1403.5,679.5 C1405.2,679 1408.7,678.1 1410.5,677.7 C1412.3,677.3 1415.8,676.5 1417.5,676.4 C1419.3,676.4 1422.8,677 1424.5,677.2 C1426.3,677.4 1430.7,677.6 1431.6,677.7" fill="none" stroke="#ff0000" stroke-width="3" stroke-dasharray="9 4"/>
<path d="M1431.6,677.7 C1432.4,676.9 1436.8,672.7 1438.6,671.4 C1440.3,670.2 1443.9,668.2 1445.6,667.7 C1447.3,667.1 1449.8,667 1452.4,666.9 C1455,666.9 1463.8,667.2 1466.4,667.2 C1469,667.2 1471.7,667.2 1473.4,666.9 C1475.2,666.6 1477.8,665 1480.4,664.7 C1483.1,664.3 1491,663.9 1494.5,663.9 C1498,663.9 1505,664.7 1508.5,664.7 C1512,664.7 1519.9,663.9 1522.6,663.9 C1525.2,663.9 1527.8,664.3 1529.6,664.4 C1531.3,664.5 1535.7,664.6 1536.6,664.7" fill="none" stroke="#008000" stroke-width="3" stroke-dasharray="9 4"/>
<path d="M1536.6,664.7 L1543.6,665.7" fill="none" stroke="#ff0000" stroke-width="3" stroke-dasharray="9 4"/>
<path d="M1543.6,665.7 C1545.3,665.1 1553.9,662.2 1557.4,661.4 C1560.9,660.6 1568.8,659.6 1571.4,659.4 C1574.1,659.2 1576.7,660.2 1578.5,660.2 C1580.2,660.1 1583.9,658.9 1585.5,658.9 C1587,658.9 1590.1,660 1590.7,660.2" fill="none" stroke="#008000" stroke-width="3" stroke-dasharray="9 4"/>
<path d="M1590.7,660.2 C1591,660.3 1591.4,660.8 1592.5,661.4 C1593.6,662 1597.8,664.2 1599.5,664.7 C1601.3,665.1 1604.8,665.1 1606.5,665.2 C1608.3,665.2 1611.8,665 1613.6,665.2 C1615.3,665.3 1617.7,665.9 1620.3,666.4 C1622.9,667 1631.7,669 1634.4,669.7 C1637,670.4 1639.6,671.7 1641.4,672.2 C1643.1,672.7 1646.6,673.8 1648.4,673.9 C1650.2,674.1 1653.7,673 1655.4,673.2 C1657.2,673.3 1660.7,674.3 1662.4,675.2 C1664.2,676.1 1667.7,678.8 1669.5,680.2 C1671.2,681.6 1674.7,685.2 1676.5,686.5 C1678.2,687.7 1681.7,689.5 1683.5,690.2 C1685.3,691 1688.8,692.3 1690.5,692.7 C1692.3,693.2 1695.8,694 1697.5,694 C1699.3,694 1703.7,692.9 1704.6,692.7" fill="none" stroke="#ff0000" stroke-width="3" stroke-dasharray="9 4"/>
<circle cx="45.5" cy="682.2" r="4" fill="#6495ed" stroke="#000" stroke-width="1"/>
<circle cx="66.5" cy="675.2" r="4" fill="#6495ed" stroke="#000" stroke-width="1"/>
<circle cx="108.5" cy="670.2" r="4" fill="#6495ed" stroke="#000" stroke-width="1"/>
<circle cx="227.5" cy="681.2" r="4" fill="#6495ed" stroke="#000" stroke-width="1"/>
<circle cx="255.5" cy="696.5" r="4" fill="#6495ed" stroke="#000" stroke-width="1"/>
<circle cx="290.5" cy="667.2" r="4" fill="#6495ed" stroke="#000" stroke-width="1"/>
<circle cx="332.5" cy="658.4" r="4" fill="#6495ed" stroke="#000" stroke-width="1"/>
<circle cx="472.5" cy="755.4" r="4" fill="#6495ed" stroke="#000" stroke-width="1"/>
<circle cx="535.5" cy="692.2" r="4" fill="#6495ed" stroke="#000" stroke-width="1"/>
<circle cx="563.5" cy="672.2" r="4" fill="#6495ed" stroke="#000" stroke-width="1"/>
<circle cx="661.5" cy="652.1" r="4" fill="#6495ed" stroke="#000" stroke-width="1"/>
<circle cx="745.5" cy="652.1" r="4" fill="#6495ed" stroke="#000" stroke-width="1"/>
<circle cx="759.5" cy="649.6" r="4" fill="#6495ed" stroke="#000" stroke-width="1"/>
<circle cx="787.5" cy="655.4" r="4" fill="#6495ed" stroke="#000" stroke-width="1"/>
<circle cx="829.5" cy="672.2" r="4" fill="#6495ed" stroke="#000" stroke-width="1"/>
<circle cx="871.5" cy="692.2" r="4" fill="#6495ed" stroke="#000" stroke-width="1"/>
<circle cx="948.5" cy="717.3" r="4" fill="#6495ed" stroke="#000" stroke-width="1"/>
<circle cx="983.5" cy="716.3" r="4" fill="#6495ed" stroke="#000" stroke-width="1"/>
<circle cx="1102.5" cy="662.4" r="4" fill="#6495ed" stroke="#000" stroke-width="1"/>
<circle cx="1179.5" cy="665.2" r="4" fill="#6495ed" stroke="#000" stroke-width="1"/>
<circle cx="1235.5" cy="668.2" r="4" fill="#6495ed" stroke="#000" stroke-width="1"/>
<circle cx="1277.5" cy="670.4" r="4" fill="#6495ed" stroke="#000" stroke-width="1"/>
<circle cx="1445.5" cy="669.7" r="4" fill="#6495ed" stroke="#000" stroke-width="1"/>
<circle cx="1571.5" cy="676.4" r="4" fill="#6495ed" stroke="#000" stroke-width="1"/>
<circle cx="1592.5" cy="683.5" r="4" fill="#6495ed" stroke="#000" stroke-width="1"/>
<circle cx="1683.5" cy="708.3" r="4" fill="#6495ed" stroke="#000" stroke-width="1"/>
<circle cx="1697.5" cy="703.5" r="4" fill="#6495ed" stroke="#000" stroke-width="1"/>
<line x1="17.5" y1="383.3" x2="17.5" y2="400.8" stroke="#000"/>
<rect x="14.5" y="391.5" width="6" height="4" fill="#90ee90" stroke="#000"/>
<line x1="24.5" y1="369.1" x2="24.5" y2="391" stroke="#000"/>
<rect x="21.5" y="383.5" width="6" height="4" fill="#90ee90" stroke="#000"/>
<line x1="31.5" y1="373" x2="31.5" y2="391" stroke="#000"/>
<rect x="28.5" y="384.5" width="6" height="3" fill="#ff0000" stroke="#000"/>
<line x1="38.5" y1="369.1" x2="38.5" y2="394.9" stroke="#000"/>
<rect x="35.5" y="378.5" width="6" height="9" fill="#90ee90" stroke="#000"/>
<line x1="45.5" y1="350.5" x2="45.5" y2="387" stroke="#000"/>
<rect x="42.5" y="376.5" width="6" height="8" fill="#ff0000" stroke="#000"/>
<line x1="52.5" y1="351.2" x2="52.5" y2="388.8" stroke="#000"/>
<rect x="49.5" y="360.5" width="6" height="21" fill="#90ee90" stroke="#000"/>
<line x1="59.5" y1="351.2" x2="59.5" y2="380" stroke="#000"/>
<rect x="56.5" y="358.5" width="6" height="3" fill="#90ee90" stroke="#000"/>
<line x1="66.5" y1="328.6" x2="66.5" y2="365.2" stroke="#000"/>
<rect x="63.5" y="356.5" width="6" height="2" fill="#90ee90" stroke="#000"/>
<line x1="73.5" y1="335.2" x2="73.5" y2="358.2" stroke="#000"/>
<rect x="70.5" y="347.5" width="6" height="8" fill="#90ee90" stroke="#000"/>
<line x1="80.5" y1="337.4" x2="80.5" y2="363.6" stroke="#000"/>
<rect x="77.5" y="348.5" width="6" height="3" fill="#ff0000" stroke="#000"/>
<line x1="87.5" y1="323.2" x2="87.5" y2="356" stroke="#000"/>
<rect x="84.5" y="346.5" width="6" height="5" fill="#90ee90" stroke="#000"/>
<line x1="94.5" y1="319.2" x2="94.5" y2="349.4" stroke="#000"/>
<rect x="91.5" y="334.5" width="6" height="11" fill="#90ee90" stroke="#000"/>
<line x1="101.5" y1="280" x2="101.5" y2="341.8" stroke="#000"/>
<rect x="98.5" y="294.5" width="6" height="39" fill="#90ee90" stroke="#000"/>
<line x1="108.5" y1="281.6" x2="108.5" y2="327.5" stroke="#000"/>
<rect x="105.5" y="294.5" width="6" height="21" fill="#ff0000" stroke="#000"/>
<line x1="115.5" y1="303" x2="115.5" y2="331.9" stroke="#000"/>
<rect x="112.5" y="315.5" width="6" height="12" fill="#ff0000" stroke="#000"/>
<line x1="122.5" y1="317" x2="122.5" y2="375.7" stroke="#000"/>
<rect x="119.5" y="329.5" width="6" height="18" fill="#ff0000" stroke="#000"/>
<line x1="129.5" y1="333" x2="129.5" y2="358.2" stroke="#000"/>
<rect x="126.5" y="346.5" width="6" height="3" fill="#ff0000" stroke="#000"/>
<line x1="136.5" y1="330.8" x2="136.5" y2="369.5" stroke="#000"/>
<rect x="133.5" y="347.5" width="6" height="18" fill="#ff0000" stroke="#000"/>
<line x1="143.5" y1="356" x2="143.5" y2="375.7" stroke="#000"/>
<rect x="140.5" y="356.5" width="6" height="9" fill="#90ee90" stroke="#000"/>
<line x1="150.5" y1="347.2" x2="150.5" y2="365.8" stroke="#000"/>
<line x1="147.0" y1="354.5" x2="154.0" y2="354.5" stroke="#000"/>
<line x1="157.5" y1="347.2" x2="157.5" y2="368" stroke="#000"/>
<line x1="154.0" y1="354.5" x2="161.0" y2="354.5" stroke="#000"/>
<line x1="164.5" y1="354.9" x2="164.5" y2="371.7" stroke="#000"/>
<rect x="161.5" y="358.5" width="6" height="2" fill="#ff0000" stroke="#000"/>
<line x1="171.5" y1="338.5" x2="171.5" y2="369.5" stroke="#000"/>
<rect x="168.5" y="344.5" width="6" height="20" fill="#90ee90" stroke="#000"/>
<line x1="178.5" y1="317" x2="178.5" y2="353.8" stroke="#000"/>
<rect x="175.5" y="328.5" width="6" height="16" fill="#90ee90" stroke="#000"/>
<line x1="185.5" y1="323.2" x2="185.5" y2="342.8" stroke="#000"/>
<rect x="182.5" y="328.5" width="6" height="8" fill="#ff0000" stroke="#000"/>
<line x1="192.5" y1="333" x2="192.5" y2="361.9" stroke="#000"/>
<rect x="189.5" y="335.5" width="6" height="14" fill="#ff0000" stroke="#000"/>
<line x1="199.5" y1="342.8" x2="199.5" y2="357.7" stroke="#000"/>
<rect x="196.5" y="347.5" width="6" height="2" fill="#ff0000" stroke="#000"/>
<line x1="206.5" y1="342.8" x2="206.5" y2="356" stroke="#000"/>
<rect x="203.5" y="347.5" width="6" height="2" fill="#90ee90" stroke="#000"/>
<line x1="213.5" y1="325.3" x2="213.5" y2="357.7" stroke="#000"/>
<rect x="210.5" y="328.5" width="6" height="20" fill="#90ee90" stroke="#000"/>
<line x1="220.5" y1="323.2" x2="220.5" y2="338.5" stroke="#000"/>
<line x1="217.0" y1="329.5" x2="224.0" y2="329.5" stroke="#000"/>
<line x1="227.5" y1="279.4" x2="227.5" y2="365.8" stroke="#000"/>
<rect x="224.5" y="324.5" width="6" height="5" fill="#90ee90" stroke="#000"/>
<line x1="234.5" y1="317" x2="234.5" y2="349.4" stroke="#000"/>
<rect x="231.5" y="326.5" width="6" height="9" fill="#ff0000" stroke="#000"/>
<line x1="241.5" y1="333" x2="241.5" y2="383.8" stroke="#000"/>
<rect x="238.5" y="335.5" width="6" height="40" fill="#ff0000" stroke="#000"/>
<line x1="248.5" y1="351.6" x2="248.5" y2="387" stroke="#000"/>
<rect x="245.5" y="376.5" width="6" height="4" fill="#ff0000" stroke="#000"/>
<line x1="255.5" y1="343.9" x2="255.5" y2="391" stroke="#000"/>
<rect x="252.5" y="364.5" width="6" height="16" fill="#90ee90" stroke="#000"/>
<line x1="262.5" y1="319.2" x2="262.5" y2="373.5" stroke="#000"/>
<rect x="259.5" y="346.5" width="6" height="18" fill="#90ee90" stroke="#000"/>
<line x1="269.5" y1="314.8" x2="269.5" y2="385.5" stroke="#000"/>
<rect x="266.5" y="346.5" width="6" height="21" fill="#ff0000" stroke="#000"/>
<line x1="276.5" y1="281.9" x2="276.5" y2="383.7" stroke="#000"/>
<rect x="273.5" y="314.5" width="6" height="54" fill="#90ee90" stroke="#000"/>
<line x1="283.5" y1="298.3" x2="283.5" y2="338.8" stroke="#000"/>
<rect x="280.5" y="308.5" width="6" height="5" fill="#90ee90" stroke="#000"/>
<line x1="290.5" y1="272.1" x2="290.5" y2="315.8" stroke="#000"/>
<rect x="287.5" y="292.5" width="6" height="17" fill="#90ee90" stroke="#000"/>
<line x1="297.5" y1="281.9" x2="297.5" y2="308.2" stroke="#000"/>
<rect x="294.5" y="297.5" width="6" height="7" fill="#ff0000" stroke="#000"/>
<line x1="304.5" y1="297.2" x2="304.5" y2="315.8" stroke="#000"/>
<line x1="301.0" y1="303.5" x2="308.0" y2="303.5" stroke="#000"/>
<line x1="311.5" y1="279.7" x2="311.5" y2="309.9" stroke="#000"/>
<rect x="308.5" y="287.5" width="6" height="17" fill="#90ee90" stroke="#000"/>
<line x1="318.5" y1="281.9" x2="318.5" y2="298.8" stroke="#000"/>
<rect x="315.5" y="289.5" width="6" height="2" fill="#ff0000" stroke="#000"/>
<line x1="325.5" y1="284.1" x2="325.5" y2="303.8" stroke="#000"/>
<rect x="322.5" y="289.5" width="6" height="5" fill="#ff0000" stroke="#000"/>
<line x1="332.5" y1="207.5" x2="332.5" y2="302.7" stroke="#000"/>
<rect x="329.5" y="239.5" width="6" height="58" fill="#90ee90" stroke="#000"/>
<line x1="339.5" y1="235.5" x2="339.5" y2="278.6" stroke="#000"/>
<rect x="336.5" y="239.5" width="6" height="12" fill="#ff0000" stroke="#000"/>
<line x1="346.5" y1="245.8" x2="346.5" y2="278.6" stroke="#000"/>
<rect x="343.5" y="251.5" width="6" height="20" fill="#ff0000" stroke="#000"/>
<line x1="353.5" y1="243.6" x2="353.5" y2="278.6" stroke="#000"/>
<rect x="350.5" y="259.5" width="6" height="12" fill="#90ee90" stroke="#000"/>
<line x1="360.5" y1="235.5" x2="360.5" y2="263.3" stroke="#000"/>
<rect x="357.5" y="254.5" width="6" height="2" fill="#90ee90" stroke="#000"/>
<line x1="367.5" y1="245.8" x2="367.5" y2="277.5" stroke="#000"/>
<rect x="364.5" y="256.5" width="6" height="8" fill="#ff0000" stroke="#000"/>
<line x1="374.5" y1="257.8" x2="374.5" y2="277.5" stroke="#000"/>
<rect x="371.5" y="263.5" width="6" height="2" fill="#90ee90" stroke="#000"/>
<line x1="381.5" y1="260" x2="381.5" y2="292.8" stroke="#000"/>
<rect x="378.5" y="263.5" width="6" height="24" fill="#ff0000" stroke="#000"/>
<line x1="388.5" y1="281.9" x2="388.5" y2="308.2" stroke="#000"/>
<rect x="385.5" y="285.5" width="6" height="14" fill="#ff0000" stroke="#000"/>
<line x1="395.5" y1="284.1" x2="395.5" y2="311.9" stroke="#000"/>
<rect x="392.5" y="291.5" width="6" height="8" fill="#90ee90" stroke="#000"/>
<line x1="402.5" y1="281.9" x2="402.5" y2="336" stroke="#000"/>
<rect x="399.5" y="295.5" width="6" height="25" fill="#ff0000" stroke="#000"/>
<line x1="409.5" y1="295" x2="409.5" y2="332.2" stroke="#000"/>
<rect x="406.5" y="308.5" width="6" height="12" fill="#90ee90" stroke="#000"/>
<line x1="416.5" y1="298.3" x2="416.5" y2="325.7" stroke="#000"/>
<rect x="413.5" y="310.5" width="6" height="4" fill="#ff0000" stroke="#000"/>
<line x1="423.5" y1="291.8" x2="423.5" y2="333.8" stroke="#000"/>
<rect x="420.5" y="314.5" width="6" height="14" fill="#ff0000" stroke="#000"/>
<line x1="430.5" y1="276" x2="430.5" y2="343.8" stroke="#000"/>
<rect x="427.5" y="295.5" width="6" height="33" fill="#90ee90" stroke="#000"/>
<line x1="437.5" y1="269.9" x2="437.5" y2="320.2" stroke="#000"/>
<rect x="434.5" y="297.5" width="6" height="7" fill="#ff0000" stroke="#000"/>
<line x1="444.5" y1="277.5" x2="444.5" y2="457.4" stroke="#000"/>
<rect x="441.5" y="304.5" width="6" height="132" fill="#ff0000" stroke="#000"/>
<line x1="451.5" y1="418.7" x2="451.5" y2="475.4" stroke="#000"/>
<rect x="448.5" y="434.5" width="6" height="26" fill="#ff0000" stroke="#000"/>
<line x1="458.5" y1="454.1" x2="458.5" y2="496.1" stroke="#000"/>
<rect x="455.5" y="462.5" width="6" height="23" fill="#ff0000" stroke="#000"/>
<line x1="465.5" y1="468.9" x2="465.5" y2="507.3" stroke="#000"/>
<rect x="462.5" y="478.5" width="6" height="8" fill="#90ee90" stroke="#000"/>
<line x1="472.5" y1="477.1" x2="472.5" y2="532.9" stroke="#000"/>
<rect x="469.5" y="480.5" width="6" height="42" fill="#ff0000" stroke="#000"/>
<line x1="479.5" y1="493.5" x2="479.5" y2="530.2" stroke="#000"/>
<rect x="476.5" y="502.5" width="6" height="20" fill="#90ee90" stroke="#000"/>
<line x1="486.5" y1="477.1" x2="486.5" y2="503.3" stroke="#000"/>
<rect x="483.5" y="487.5" width="6" height="14" fill="#90ee90" stroke="#000"/>
<line x1="493.5" y1="477.1" x2="493.5" y2="494.1" stroke="#000"/>
<rect x="490.5" y="486.5" width="6" height="2" fill="#90ee90" stroke="#000"/>
<line x1="500.5" y1="480.4" x2="500.5" y2="505.6" stroke="#000"/>
<rect x="497.5" y="486.5" width="6" height="18" fill="#ff0000" stroke="#000"/>
<line x1="507.5" y1="494.1" x2="507.5" y2="527.9" stroke="#000"/>
<rect x="504.5" y="503.5" width="6" height="10" fill="#ff0000" stroke="#000"/>
<line x1="514.5" y1="501" x2="514.5" y2="527.9" stroke="#000"/>
<rect x="511.5" y="514.5" width="6" height="3" fill="#ff0000" stroke="#000"/>
<line x1="521.5" y1="507.3" x2="521.5" y2="523.7" stroke="#000"/>
<rect x="518.5" y="515.5" width="6" height="2" fill="#90ee90" stroke="#000"/>
<line x1="528.5" y1="503.3" x2="528.5" y2="523.7" stroke="#000"/>
<rect x="525.5" y="514.5" width="6" height="3" fill="#ff0000" stroke="#000"/>
<line x1="535.5" y1="512.2" x2="535.5" y2="536.1" stroke="#000"/>
<rect x="532.5" y="517.5" width="6" height="10" fill="#ff0000" stroke="#000"/>
<line x1="542.5" y1="513.2" x2="542.5" y2="537.8" stroke="#000"/>
<rect x="539.5" y="516.5" width="6" height="16" fill="#90ee90" stroke="#000"/>
<line x1="549.5" y1="496.1" x2="549.5" y2="518.1" stroke="#000"/>
<rect x="546.5" y="506.5" width="6" height="11" fill="#90ee90" stroke="#000"/>
<line x1="556.5" y1="493.5" x2="556.5" y2="559.1" stroke="#000"/>
<rect x="553.5" y="504.5" width="6" height="41" fill="#ff0000" stroke="#000"/>
<line x1="563.5" y1="501.7" x2="563.5" y2="564" stroke="#000"/>
<rect x="560.5" y="507.5" width="6" height="38" fill="#90ee90" stroke="#000"/>
<line x1="570.5" y1="479.7" x2="570.5" y2="531.2" stroke="#000"/>
<rect x="567.5" y="504.5" width="6" height="3" fill="#90ee90" stroke="#000"/>
<line x1="577.5" y1="475.4" x2="577.5" y2="519.7" stroke="#000"/>
<rect x="574.5" y="484.5" width="6" height="20" fill="#90ee90" stroke="#000"/>
<line x1="584.5" y1="408.1" x2="584.5" y2="508.2" stroke="#000"/>
<rect x="581.5" y="437.5" width="6" height="47" fill="#90ee90" stroke="#000"/>
<line x1="591.5" y1="420.3" x2="591.5" y2="455.7" stroke="#000"/>
<rect x="588.5" y="432.5" width="6" height="2" fill="#ff0000" stroke="#000"/>
<line x1="598.5" y1="412.4" x2="598.5" y2="457.4" stroke="#000"/>
<rect x="595.5" y="434.5" width="6" height="10" fill="#ff0000" stroke="#000"/>
<line x1="605.5" y1="424.6" x2="605.5" y2="477.7" stroke="#000"/>
<rect x="602.5" y="443.5" width="6" height="24" fill="#ff0000" stroke="#000"/>
<line x1="612.5" y1="409.8" x2="612.5" y2="470.5" stroke="#000"/>
<rect x="609.5" y="439.5" width="6" height="28" fill="#90ee90" stroke="#000"/>
<line x1="619.5" y1="402.2" x2="619.5" y2="452.5" stroke="#000"/>
<rect x="616.5" y="425.5" width="6" height="16" fill="#90ee90" stroke="#000"/>
<line x1="626.5" y1="414.1" x2="626.5" y2="454.1" stroke="#000"/>
<rect x="623.5" y="425.5" width="6" height="21" fill="#ff0000" stroke="#000"/>
<line x1="633.5" y1="436" x2="633.5" y2="473.1" stroke="#000"/>
<rect x="630.5" y="447.5" width="6" height="8" fill="#ff0000" stroke="#000"/>
<line x1="640.5" y1="431.8" x2="640.5" y2="468.9" stroke="#000"/>
<rect x="637.5" y="440.5" width="6" height="14" fill="#90ee90" stroke="#000"/>
<line x1="647.5" y1="421.3" x2="647.5" y2="444.3" stroke="#000"/>
<rect x="644.5" y="425.5" width="6" height="16" fill="#90ee90" stroke="#000"/>
<line x1="654.5" y1="391.1" x2="654.5" y2="431.8" stroke="#000"/>
<rect x="651.5" y="401.5" width="6" height="24" fill="#90ee90" stroke="#000"/>
<line x1="661.5" y1="392.4" x2="661.5" y2="419.6" stroke="#000"/>
<rect x="658.5" y="401.5" width="6" height="11" fill="#ff0000" stroke="#000"/>
<line x1="668.5" y1="401.6" x2="668.5" y2="427.8" stroke="#000"/>
<rect x="665.5" y="412.5" width="6" height="10" fill="#ff0000" stroke="#000"/>
<line x1="675.5" y1="409.8" x2="675.5" y2="431.8" stroke="#000"/>
<rect x="672.5" y="419.5" width="6" height="3" fill="#90ee90" stroke="#000"/>
<line x1="682.5" y1="402.2" x2="682.5" y2="428.5" stroke="#000"/>
<rect x="679.5" y="419.5" width="6" height="6" fill="#ff0000" stroke="#000"/>
<line x1="689.5" y1="416.2" x2="689.5" y2="430.9" stroke="#000"/>
<line x1="686.0" y1="422.5" x2="693.0" y2="422.5" stroke="#000"/>
<line x1="696.5" y1="418.6" x2="696.5" y2="444.9" stroke="#000"/>
<rect x="693.5" y="425.5" width="6" height="10" fill="#ff0000" stroke="#000"/>
<line x1="703.5" y1="426.8" x2="703.5" y2="443.2" stroke="#000"/>
<rect x="700.5" y="430.5" width="6" height="5" fill="#ff0000" stroke="#000"/>
<line x1="710.5" y1="408" x2="710.5" y2="440.8" stroke="#000"/>
<rect x="707.5" y="419.5" width="6" height="16" fill="#90ee90" stroke="#000"/>
<line x1="717.5" y1="385" x2="717.5" y2="426.8" stroke="#000"/>
<rect x="714.5" y="396.5" width="6" height="20" fill="#90ee90" stroke="#000"/>
<line x1="724.5" y1="383" x2="724.5" y2="410.4" stroke="#000"/>
<rect x="721.5" y="395.5" width="6" height="2" fill="#90ee90" stroke="#000"/>
<line x1="731.5" y1="362.8" x2="731.5" y2="403" stroke="#000"/>
<rect x="728.5" y="378.5" width="6" height="16" fill="#90ee90" stroke="#000"/>
<line x1="738.5" y1="309.1" x2="738.5" y2="379.1" stroke="#000"/>
<rect x="735.5" y="341.5" width="6" height="38" fill="#90ee90" stroke="#000"/>
<line x1="745.5" y1="311.3" x2="745.5" y2="349.6" stroke="#000"/>
<rect x="742.5" y="338.5" width="6" height="2" fill="#90ee90" stroke="#000"/>
<line x1="752.5" y1="323.3" x2="752.5" y2="345.9" stroke="#000"/>
<line x1="749.0" y1="338.5" x2="756.0" y2="338.5" stroke="#000"/>
<line x1="759.5" y1="286.1" x2="759.5" y2="341.5" stroke="#000"/>
<rect x="756.5" y="308.5" width="6" height="28" fill="#90ee90" stroke="#000"/>
<line x1="766.5" y1="300.3" x2="766.5" y2="343" stroke="#000"/>
<rect x="763.5" y="310.5" width="6" height="8" fill="#ff0000" stroke="#000"/>
<line x1="773.5" y1="296.6" x2="773.5" y2="339.7" stroke="#000"/>
<rect x="770.5" y="297.5" width="6" height="23" fill="#90ee90" stroke="#000"/>
<line x1="780.5" y1="290.5" x2="780.5" y2="323.3" stroke="#000"/>
<rect x="777.5" y="297.5" width="6" height="25" fill="#ff0000" stroke="#000"/>
<line x1="787.5" y1="258.3" x2="787.5" y2="327.7" stroke="#000"/>
<rect x="784.5" y="275.5" width="6" height="49" fill="#90ee90" stroke="#000"/>
<line x1="794.5" y1="264.9" x2="794.5" y2="296.4" stroke="#000"/>
<rect x="791.5" y="273.5" width="6" height="15" fill="#ff0000" stroke="#000"/>
<line x1="801.5" y1="262" x2="801.5" y2="294.2" stroke="#000"/>
<rect x="798.5" y="267.5" width="6" height="21" fill="#90ee90" stroke="#000"/>
<line x1="808.5" y1="260.5" x2="808.5" y2="276.3" stroke="#000"/>
<rect x="805.5" y="265.5" width="6" height="2" fill="#90ee90" stroke="#000"/>
<line x1="815.5" y1="260.5" x2="815.5" y2="276.3" stroke="#000"/>
<rect x="812.5" y="265.5" width="6" height="3" fill="#ff0000" stroke="#000"/>
<line x1="822.5" y1="250" x2="822.5" y2="274.5" stroke="#000"/>
<rect x="819.5" y="254.5" width="6" height="14" fill="#90ee90" stroke="#000"/>
<line x1="836.5" y1="264.2" x2="836.5" y2="282.4" stroke="#000"/>
<rect x="833.5" y="273.5" width="6" height="6" fill="#90ee90" stroke="#000"/>
<line x1="843.5" y1="266.4" x2="843.5" y2="278.5" stroke="#000"/>
<line x1="840.0" y1="273.5" x2="847.0" y2="273.5" stroke="#000"/>
<line x1="850.5" y1="262" x2="850.5" y2="276.3" stroke="#000"/>
<rect x="847.5" y="267.5" width="6" height="6" fill="#90ee90" stroke="#000"/>
<line x1="857.5" y1="259.9" x2="857.5" y2="274.5" stroke="#000"/>
<rect x="854.5" y="265.5" width="6" height="2" fill="#ff0000" stroke="#000"/>
<line x1="864.5" y1="254.4" x2="864.5" y2="276.3" stroke="#000"/>
<rect x="861.5" y="258.5" width="6" height="10" fill="#90ee90" stroke="#000"/>
<line x1="871.5" y1="245.6" x2="871.5" y2="269.7" stroke="#000"/>
<rect x="868.5" y="258.5" width="6" height="6" fill="#ff0000" stroke="#000"/>
<line x1="878.5" y1="256.1" x2="878.5" y2="272.3" stroke="#000"/>
<rect x="875.5" y="264.5" width="6" height="6" fill="#ff0000" stroke="#000"/>
<line x1="885.5" y1="252.2" x2="885.5" y2="288.3" stroke="#000"/>
<rect x="882.5" y="271.5" width="6" height="8" fill="#ff0000" stroke="#000"/>
<line x1="892.5" y1="266.4" x2="892.5" y2="290.5" stroke="#000"/>
<rect x="889.5" y="274.5" width="6" height="8" fill="#90ee90" stroke="#000"/>
<line x1="899.5" y1="264.2" x2="899.5" y2="282.8" stroke="#000"/>
<rect x="896.5" y="273.5" width="6" height="4" fill="#ff0000" stroke="#000"/>
<line x1="906.5" y1="268.6" x2="906.5" y2="290.5" stroke="#000"/>
<rect x="903.5" y="276.5" width="6" height="8" fill="#ff0000" stroke="#000"/>
<line x1="913.5" y1="278.5" x2="913.5" y2="293.8" stroke="#000"/>
<rect x="910.5" y="283.5" width="6" height="2" fill="#90ee90" stroke="#000"/>
<line x1="920.5" y1="278.5" x2="920.5" y2="300.3" stroke="#000"/>
<rect x="917.5" y="283.5" width="6" height="3" fill="#ff0000" stroke="#000"/>
<line x1="927.5" y1="274.1" x2="927.5" y2="302.5" stroke="#000"/>
<rect x="924.5" y="285.5" width="6" height="2" fill="#90ee90" stroke="#000"/>
<line x1="934.5" y1="282.8" x2="934.5" y2="315.7" stroke="#000"/>
<rect x="931.5" y="286.5" width="6" height="19" fill="#ff0000" stroke="#000"/>
<line x1="941.5" y1="290.5" x2="941.5" y2="345.9" stroke="#000"/>
<rect x="938.5" y="305.5" width="6" height="24" fill="#ff0000" stroke="#000"/>
<line x1="948.5" y1="321.6" x2="948.5" y2="351.8" stroke="#000"/>
<rect x="945.5" y="329.5" width="6" height="12" fill="#ff0000" stroke="#000"/>
<line x1="955.5" y1="309.5" x2="955.5" y2="349.6" stroke="#000"/>
<rect x="952.5" y="313.5" width="6" height="26" fill="#90ee90" stroke="#000"/>
<line x1="962.5" y1="309.1" x2="962.5" y2="339.3" stroke="#000"/>
<line x1="959.0" y1="311.5" x2="966.0" y2="311.5" stroke="#000"/>
<line x1="969.5" y1="306.9" x2="969.5" y2="359.4" stroke="#000"/>
<rect x="966.5" y="311.5" width="6" height="28" fill="#ff0000" stroke="#000"/>
<line x1="976.5" y1="333.3" x2="976.5" y2="376" stroke="#000"/>
<rect x="973.5" y="339.5" width="6" height="20" fill="#ff0000" stroke="#000"/>
<line x1="983.5" y1="335.5" x2="983.5" y2="384.7" stroke="#000"/>
<rect x="980.5" y="356.5" width="6" height="2" fill="#90ee90" stroke="#000"/>
<line x1="990.5" y1="343.2" x2="990.5" y2="383.7" stroke="#000"/>
<rect x="987.5" y="356.5" width="6" height="5" fill="#ff0000" stroke="#000"/>
<line x1="997.5" y1="328.9" x2="997.5" y2="367.7" stroke="#000"/>
<rect x="994.5" y="338.5" width="6" height="23" fill="#90ee90" stroke="#000"/>
<line x1="1004.5" y1="330" x2="1004.5" y2="349.7" stroke="#000"/>
<rect x="1001.5" y="334.5" width="6" height="3" fill="#90ee90" stroke="#000"/>
<line x1="1011.5" y1="330" x2="1011.5" y2="345.8" stroke="#000"/>
<rect x="1008.5" y="334.5" width="6" height="2" fill="#90ee90" stroke="#000"/>
<line x1="1018.5" y1="321.3" x2="1018.5" y2="341.4" stroke="#000"/>
<rect x="1015.5" y="326.5" width="6" height="8" fill="#90ee90" stroke="#000"/>
<line x1="1025.5" y1="323" x2="1025.5" y2="341.4" stroke="#000"/>
<rect x="1022.5" y="326.5" width="6" height="5" fill="#ff0000" stroke="#000"/>
<line x1="1032.5" y1="315.2" x2="1032.5" y2="337.7" stroke="#000"/>
<rect x="1029.5" y="321.5" width="6" height="10" fill="#90ee90" stroke="#000"/>
<line x1="1039.5" y1="296.1" x2="1039.5" y2="330" stroke="#000"/>
<rect x="1036.5" y="298.5" width="6" height="23" fill="#90ee90" stroke="#000"/>
<line x1="1046.5" y1="288.5" x2="1046.5" y2="319.1" stroke="#000"/>
<rect x="1043.5" y="288.5" width="6" height="10" fill="#90ee90" stroke="#000"/>
<line x1="1053.5" y1="282.3" x2="1053.5" y2="300.5" stroke="#000"/>
<rect x="1050.5" y="289.5" width="6" height="3" fill="#90ee90" stroke="#000"/>
<line x1="1060.5" y1="285.6" x2="1060.5" y2="311.9" stroke="#000"/>
<rect x="1057.5" y="288.5" width="6" height="19" fill="#ff0000" stroke="#000"/>
<line x1="1067.5" y1="296.1" x2="1067.5" y2="311.9" stroke="#000"/>
<rect x="1064.5" y="306.5" width="6" height="2" fill="#90ee90" stroke="#000"/>
<line x1="1074.5" y1="293.9" x2="1074.5" y2="308.2" stroke="#000"/>
<rect x="1071.5" y="301.5" width="6" height="5" fill="#90ee90" stroke="#000"/>
<line x1="1081.5" y1="296.6" x2="1081.5" y2="315.8" stroke="#000"/>
<rect x="1078.5" y="301.5" width="6" height="2" fill="#ff0000" stroke="#000"/>
<line x1="1088.5" y1="298.3" x2="1088.5" y2="313.6" stroke="#000"/>
<rect x="1085.5" y="303.5" width="6" height="7" fill="#ff0000" stroke="#000"/>
<line x1="1095.5" y1="264.4" x2="1095.5" y2="311.4" stroke="#000"/>
<rect x="1092.5" y="286.5" width="6" height="22" fill="#90ee90" stroke="#000"/>
<line x1="1102.5" y1="223.9" x2="1102.5" y2="290.7" stroke="#000"/>
<rect x="1099.5" y="255.5" width="6" height="32" fill="#90ee90" stroke="#000"/>
<line x1="1109.5" y1="240.3" x2="1109.5" y2="278.6" stroke="#000"/>
<rect x="1106.5" y="255.5" width="6" height="8" fill="#ff0000" stroke="#000"/>
<line x1="1116.5" y1="254.6" x2="1116.5" y2="295" stroke="#000"/>
<rect x="1113.5" y="263.5" width="6" height="2" fill="#ff0000" stroke="#000"/>
<line x1="1123.5" y1="258.3" x2="1123.5" y2="294.6" stroke="#000"/>
<rect x="1120.5" y="263.5" width="6" height="8" fill="#ff0000" stroke="#000"/>
<line x1="1130.5" y1="264.4" x2="1130.5" y2="284.1" stroke="#000"/>
<line x1="1127.0" y1="273.5" x2="1134.0" y2="273.5" stroke="#000"/>
<line x1="1137.5" y1="260" x2="1137.5" y2="292.8" stroke="#000"/>
<line x1="1134.0" y1="273.5" x2="1141.0" y2="273.5" stroke="#000"/>
<line x1="1144.5" y1="266.1" x2="1144.5" y2="327.9" stroke="#000"/>
<rect x="1141.5" y="271.5" width="6" height="51" fill="#ff0000" stroke="#000"/>
<line x1="1151.5" y1="236" x2="1151.5" y2="323.9" stroke="#000"/>
<rect x="1148.5" y="246.5" width="6" height="73" fill="#90ee90" stroke="#000"/>
<line x1="1158.5" y1="240.3" x2="1158.5" y2="272.1" stroke="#000"/>
<rect x="1155.5" y="246.5" width="6" height="10" fill="#ff0000" stroke="#000"/>
<line x1="1165.5" y1="243.6" x2="1165.5" y2="271" stroke="#000"/>
<rect x="1162.5" y="252.5" width="6" height="6" fill="#90ee90" stroke="#000"/>
<line x1="1172.5" y1="220.6" x2="1172.5" y2="260.5" stroke="#000"/>
<rect x="1169.5" y="245.5" width="6" height="12" fill="#90ee90" stroke="#000"/>
<line x1="1179.5" y1="214.1" x2="1179.5" y2="244.7" stroke="#000"/>
<rect x="1176.5" y="217.5" width="6" height="21" fill="#90ee90" stroke="#000"/>
<line x1="1186.5" y1="217.4" x2="1186.5" y2="235.5" stroke="#000"/>
<rect x="1183.5" y="218.5" width="6" height="8" fill="#ff0000" stroke="#000"/>
<line x1="1193.5" y1="217.4" x2="1193.5" y2="232.7" stroke="#000"/>
<rect x="1190.5" y="221.5" width="6" height="8" fill="#90ee90" stroke="#000"/>
<line x1="1200.5" y1="215.8" x2="1200.5" y2="234.9" stroke="#000"/>
<rect x="1197.5" y="221.5" width="6" height="12" fill="#ff0000" stroke="#000"/>
<line x1="1207.5" y1="225.7" x2="1207.5" y2="238.8" stroke="#000"/>
<rect x="1204.5" y="231.5" width="6" height="2" fill="#90ee90" stroke="#000"/>
<line x1="1214.5" y1="226.1" x2="1214.5" y2="245.4" stroke="#000"/>
<rect x="1211.5" y="233.5" width="6" height="10" fill="#ff0000" stroke="#000"/>
<line x1="1221.5" y1="232.2" x2="1221.5" y2="255.2" stroke="#000"/>
<rect x="1218.5" y="243.5" width="6" height="2" fill="#ff0000" stroke="#000"/>
<line x1="1228.5" y1="226.1" x2="1228.5" y2="251.9" stroke="#000"/>
<rect x="1225.5" y="231.5" width="6" height="14" fill="#90ee90" stroke="#000"/>
<line x1="1235.5" y1="169.2" x2="1235.5" y2="246.5" stroke="#000"/>
<rect x="1232.5" y="183.5" width="6" height="47" fill="#90ee90" stroke="#000"/>
<line x1="1242.5" y1="168.8" x2="1242.5" y2="191.8" stroke="#000"/>
<line x1="1239.0" y1="181.5" x2="1246.0" y2="181.5" stroke="#000"/>
<line x1="1249.5" y1="171" x2="1249.5" y2="191.8" stroke="#000"/>
<rect x="1246.5" y="179.5" width="6" height="10" fill="#ff0000" stroke="#000"/>
<line x1="1256.5" y1="175.3" x2="1256.5" y2="219.1" stroke="#000"/>
<rect x="1253.5" y="190.5" width="6" height="16" fill="#ff0000" stroke="#000"/>
<line x1="1263.5" y1="197.2" x2="1263.5" y2="224.6" stroke="#000"/>
<rect x="1260.5" y="205.5" width="6" height="6" fill="#ff0000" stroke="#000"/>
<line x1="1270.5" y1="185.2" x2="1270.5" y2="221.3" stroke="#000"/>
<rect x="1267.5" y="190.5" width="6" height="24" fill="#90ee90" stroke="#000"/>
<line x1="1277.5" y1="141.4" x2="1277.5" y2="196.1" stroke="#000"/>
<rect x="1274.5" y="155.5" width="6" height="34" fill="#90ee90" stroke="#000"/>
<line x1="1284.5" y1="153" x2="1284.5" y2="184.1" stroke="#000"/>
<rect x="1281.5" y="155.5" width="6" height="12" fill="#ff0000" stroke="#000"/>
<line x1="1291.5" y1="158.9" x2="1291.5" y2="184.1" stroke="#000"/>
<rect x="1288.5" y="170.5" width="6" height="2" fill="#ff0000" stroke="#000"/>
<line x1="1298.5" y1="165.5" x2="1298.5" y2="192.8" stroke="#000"/>
<rect x="1295.5" y="169.5" width="6" height="12" fill="#ff0000" stroke="#000"/>
<line x1="1305.5" y1="155.2" x2="1305.5" y2="195" stroke="#000"/>
<rect x="1302.5" y="165.5" width="6" height="18" fill="#90ee90" stroke="#000"/>
<line x1="1312.5" y1="145.1" x2="1312.5" y2="218" stroke="#000"/>
<rect x="1309.5" y="165.5" width="6" height="39" fill="#ff0000" stroke="#000"/>
<line x1="1319.5" y1="185.2" x2="1319.5" y2="224.6" stroke="#000"/>
<rect x="1316.5" y="205.5" width="6" height="13" fill="#ff0000" stroke="#000"/>
<line x1="1326.5" y1="203.8" x2="1326.5" y2="246.9" stroke="#000"/>
<rect x="1323.5" y="221.5" width="6" height="20" fill="#ff0000" stroke="#000"/>
<line x1="1333.5" y1="216.9" x2="1333.5" y2="250.8" stroke="#000"/>
<rect x="1330.5" y="225.5" width="6" height="16" fill="#90ee90" stroke="#000"/>
<line x1="1340.5" y1="216.9" x2="1340.5" y2="236.6" stroke="#000"/>
<rect x="1337.5" y="227.5" width="6" height="2" fill="#ff0000" stroke="#000"/>
<line x1="1347.5" y1="213" x2="1347.5" y2="236.6" stroke="#000"/>
<rect x="1344.5" y="221.5" width="6" height="8" fill="#90ee90" stroke="#000"/>
<line x1="1354.5" y1="214.7" x2="1354.5" y2="230.7" stroke="#000"/>
<line x1="1351.0" y1="218.5" x2="1358.0" y2="218.5" stroke="#000"/>
<line x1="1361.5" y1="204.9" x2="1361.5" y2="225" stroke="#000"/>
<rect x="1358.5" y="208.5" width="6" height="13" fill="#90ee90" stroke="#000"/>
<line x1="1368.5" y1="207.5" x2="1368.5" y2="224.6" stroke="#000"/>
<rect x="1365.5" y="210.5" width="6" height="2" fill="#ff0000" stroke="#000"/>
<line x1="1375.5" y1="209.3" x2="1375.5" y2="226.8" stroke="#000"/>
<rect x="1372.5" y="211.5" width="6" height="10" fill="#ff0000" stroke="#000"/>
<line x1="1382.5" y1="219.1" x2="1382.5" y2="242.5" stroke="#000"/>
<rect x="1379.5" y="221.5" width="6" height="10" fill="#ff0000" stroke="#000"/>
<line x1="1389.5" y1="219.1" x2="1389.5" y2="241" stroke="#000"/>
<rect x="1386.5" y="222.5" width="6" height="14" fill="#90ee90" stroke="#000"/>
<line x1="1396.5" y1="216.9" x2="1396.5" y2="232.2" stroke="#000"/>
<rect x="1393.5" y="219.5" width="6" height="3" fill="#90ee90" stroke="#000"/>
<line x1="1403.5" y1="209.3" x2="1403.5" y2="224.6" stroke="#000"/>
<rect x="1400.5" y="211.5" width="6" height="8" fill="#90ee90" stroke="#000"/>
<line x1="1410.5" y1="193.5" x2="1410.5" y2="212.5" stroke="#000"/>
<rect x="1407.5" y="194.5" width="6" height="18" fill="#90ee90" stroke="#000"/>
<line x1="1417.5" y1="188.9" x2="1417.5" y2="207.1" stroke="#000"/>
<rect x="1414.5" y="194.5" width="6" height="4" fill="#ff0000" stroke="#000"/>
<line x1="1424.5" y1="191.1" x2="1424.5" y2="218" stroke="#000"/>
<rect x="1421.5" y="197.5" width="6" height="13" fill="#ff0000" stroke="#000"/>
<line x1="1431.5" y1="203.1" x2="1431.5" y2="232.7" stroke="#000"/>
<line x1="1428.0" y1="210.5" x2="1435.0" y2="210.5" stroke="#000"/>
<line x1="1438.5" y1="143.2" x2="1438.5" y2="209.7" stroke="#000"/>
<rect x="1435.5" y="153.5" width="6" height="56" fill="#90ee90" stroke="#000"/>
<line x1="1445.5" y1="132.7" x2="1445.5" y2="179.7" stroke="#000"/>
<rect x="1442.5" y="152.5" width="6" height="14" fill="#ff0000" stroke="#000"/>
<line x1="1452.5" y1="157.2" x2="1452.5" y2="191.8" stroke="#000"/>
<rect x="1449.5" y="165.5" width="6" height="16" fill="#ff0000" stroke="#000"/>
<line x1="1459.5" y1="165.5" x2="1459.5" y2="191.8" stroke="#000"/>
<rect x="1456.5" y="182.5" width="6" height="2" fill="#ff0000" stroke="#000"/>
<line x1="1466.5" y1="173.2" x2="1466.5" y2="193.9" stroke="#000"/>
<rect x="1463.5" y="182.5" width="6" height="2" fill="#90ee90" stroke="#000"/>
<line x1="1473.5" y1="153.5" x2="1473.5" y2="187.9" stroke="#000"/>
<rect x="1470.5" y="178.5" width="6" height="4" fill="#90ee90" stroke="#000"/>
<line x1="1480.5" y1="153.5" x2="1480.5" y2="182.3" stroke="#000"/>
<rect x="1477.5" y="153.5" width="6" height="26" fill="#90ee90" stroke="#000"/>
<line x1="1487.5" y1="149.2" x2="1487.5" y2="172.1" stroke="#000"/>
<rect x="1484.5" y="153.5" width="6" height="12" fill="#ff0000" stroke="#000"/>
<line x1="1494.5" y1="160.9" x2="1494.5" y2="177.7" stroke="#000"/>
<rect x="1491.5" y="166.5" width="6" height="2" fill="#90ee90" stroke="#000"/>
<line x1="1501.5" y1="155.3" x2="1501.5" y2="178.6" stroke="#000"/>
<rect x="1498.5" y="168.5" width="6" height="8" fill="#ff0000" stroke="#000"/>
<line x1="1508.5" y1="161.3" x2="1508.5" y2="179.9" stroke="#000"/>
<rect x="1505.5" y="164.5" width="6" height="12" fill="#90ee90" stroke="#000"/>
<line x1="1515.5" y1="153.1" x2="1515.5" y2="169.3" stroke="#000"/>
<rect x="1512.5" y="160.5" width="6" height="4" fill="#90ee90" stroke="#000"/>
<line x1="1522.5" y1="151.2" x2="1522.5" y2="167.4" stroke="#000"/>
<rect x="1519.5" y="158.5" width="6" height="2" fill="#90ee90" stroke="#000"/>
<line x1="1529.5" y1="153.1" x2="1529.5" y2="165.6" stroke="#000"/>
<rect x="1526.5" y="158.5" width="6" height="2" fill="#ff0000" stroke="#000"/>
<line x1="1536.5" y1="149.2" x2="1536.5" y2="167.4" stroke="#000"/>
<rect x="1533.5" y="160.5" width="6" height="2" fill="#ff0000" stroke="#000"/>
<line x1="1543.5" y1="157.2" x2="1543.5" y2="169.3" stroke="#000"/>
<line x1="1540.0" y1="161.5" x2="1547.0" y2="161.5" stroke="#000"/>
<line x1="1550.5" y1="137.3" x2="1550.5" y2="169.3" stroke="#000"/>
<rect x="1547.5" y="142.5" width="6" height="20" fill="#90ee90" stroke="#000"/>
<line x1="1557.5" y1="126.5" x2="1557.5" y2="162.8" stroke="#000"/>
<rect x="1554.5" y="135.5" width="6" height="8" fill="#90ee90" stroke="#000"/>
<line x1="1564.5" y1="126.5" x2="1564.5" y2="141.8" stroke="#000"/>
<rect x="1561.5" y="131.5" width="6" height="7" fill="#90ee90" stroke="#000"/>
<line x1="1571.5" y1="122.8" x2="1571.5" y2="137.3" stroke="#000"/>
<line x1="1568.0" y1="133.5" x2="1575.0" y2="133.5" stroke="#000"/>
<line x1="1578.5" y1="128.4" x2="1578.5" y2="151.6" stroke="#000"/>
<rect x="1575.5" y="133.5" width="6" height="11" fill="#ff0000" stroke="#000"/>
<line x1="1585.5" y1="126.5" x2="1585.5" y2="159.1" stroke="#000"/>
<rect x="1582.5" y="129.5" width="6" height="15" fill="#90ee90" stroke="#000"/>
<line x1="1592.5" y1="122.8" x2="1592.5" y2="153.5" stroke="#000"/>
<rect x="1589.5" y="129.5" width="6" height="16" fill="#ff0000" stroke="#000"/>
<line x1="1599.5" y1="135.4" x2="1599.5" y2="161.8" stroke="#000"/>
<rect x="1596.5" y="145.5" width="6" height="9" fill="#ff0000" stroke="#000"/>
<line x1="1606.5" y1="141.4" x2="1606.5" y2="171.5" stroke="#000"/>
<rect x="1603.5" y="150.5" width="6" height="5" fill="#90ee90" stroke="#000"/>
<line x1="1613.5" y1="126.5" x2="1613.5" y2="179.5" stroke="#000"/>
<rect x="1610.5" y="134.5" width="6" height="16" fill="#90ee90" stroke="#000"/>
<line x1="1620.5" y1="128.4" x2="1620.5" y2="175.8" stroke="#000"/>
<rect x="1617.5" y="133.5" width="6" height="17" fill="#ff0000" stroke="#000"/>
<line x1="1627.5" y1="133.4" x2="1627.5" y2="157.2" stroke="#000"/>
<line x1="1624.0" y1="151.5" x2="1631.0" y2="151.5" stroke="#000"/>
<line x1="1634.5" y1="132.5" x2="1634.5" y2="159.6" stroke="#000"/>
<rect x="1631.5" y="141.5" width="6" height="8" fill="#90ee90" stroke="#000"/>
<line x1="1641.5" y1="137.3" x2="1641.5" y2="171.5" stroke="#000"/>
<rect x="1638.5" y="141.5" width="6" height="16" fill="#ff0000" stroke="#000"/>
<line x1="1648.5" y1="145.5" x2="1648.5" y2="173" stroke="#000"/>
<rect x="1645.5" y="160.5" width="6" height="7" fill="#ff0000" stroke="#000"/>
<line x1="1655.5" y1="126.5" x2="1655.5" y2="171.5" stroke="#000"/>
<rect x="1652.5" y="138.5" width="6" height="29" fill="#90ee90" stroke="#000"/>
<line x1="1662.5" y1="135.4" x2="1662.5" y2="175.8" stroke="#000"/>
<rect x="1659.5" y="138.5" width="6" height="17" fill="#ff0000" stroke="#000"/>
<line x1="1669.5" y1="143.2" x2="1669.5" y2="205.6" stroke="#000"/>
<rect x="1666.5" y="155.5" width="6" height="40" fill="#ff0000" stroke="#000"/>
<line x1="1676.5" y1="177.1" x2="1676.5" y2="205.6" stroke="#000"/>
<line x1="1673.0" y1="195.5" x2="1680.0" y2="195.5" stroke="#000"/>
<line x1="1683.5" y1="191" x2="1683.5" y2="204.3" stroke="#000"/>
<rect x="1680.5" y="196.5" width="6" height="3" fill="#ff0000" stroke="#000"/>
<line x1="1690.5" y1="181.4" x2="1690.5" y2="203.7" stroke="#000"/>
<line x1="1687.0" y1="199.5" x2="1694.0" y2="199.5" stroke="#000"/>
<line x1="1697.5" y1="177.1" x2="1697.5" y2="208.3" stroke="#000"/>
<rect x="1694.5" y="193.5" width="6" height="6" fill="#90ee90" stroke="#000"/>
<line x1="1701.0" y1="191.5" x2="1708.0" y2="191.5" stroke="#000"/>
<path d="M17.5,393.2 C19.3,392.6 27.1,390 31.5,388.8 C35.9,387.6 47.3,384.6 52.5,383.3 C57.8,382 68.3,379.5 73.5,378.3 C78.8,377.1 90,375.1 94.5,373.5 C99,371.8 105.9,366.6 109.4,365.2 C112.9,363.7 119.1,363 122.5,362.1 C125.9,361.2 133,359.2 136.5,358.2 C140,357.1 147.1,354.7 150.5,353.8 C154,352.8 160.6,351.5 164.1,350.5 C167.6,349.5 175,346.6 178.6,345.7 C182.1,344.7 189.1,343.3 192.6,342.8 C196.1,342.4 203.1,342.5 206.6,342.2 C210.1,341.9 217.1,341 220.6,340.7 C224.1,340.3 231.9,339.2 234.6,339.6 C237.2,340 239.8,343 241.6,343.9 C243.3,344.9 246,346.8 248.6,347.2 C251.2,347.7 260,347.5 262.6,347.7 C265.2,347.8 267.8,348.5 269.6,348.3 C271.3,348.2 273.1,347.8 276.6,346.6 C280.1,345.4 293.2,340.5 297.6,338.8 C301.9,337.1 308.1,334.5 311.6,333.3 C315.1,332.1 322.1,331.2 325.6,329.4 C329.1,327.6 336.1,321.3 339.6,319.1 C343.1,316.9 350.1,313.2 353.6,311.4 C357.1,309.7 365,306.1 367.6,304.9 C370.2,303.6 372.8,302.6 374.6,301.6 C376.3,300.6 379.8,297.8 381.6,296.6 C383.3,295.3 386.8,292.7 388.6,291.8 C390.4,290.8 393.9,289.5 395.6,288.9 C397.4,288.4 400.9,288 402.6,287.4 C404.4,286.8 407.9,284.4 409.6,284.1 C411.4,283.7 414.9,284.4 416.6,284.5 C418.4,284.7 421,285.1 423.6,285.2 C426.2,285.3 435,284.4 437.6,285.2 C440.2,286 442.9,289.7 444.6,291.8 C446.4,293.8 449,298 451.6,301.6 C454.3,305.2 463.2,316.2 465.8,320.2 C468.4,324.2 469,326.8 472.4,333.3 C475.8,339.8 488.1,363.1 493.3,372 C498.6,381 509.1,397.1 514.3,404.9 C519.6,412.7 531,427.5 535.3,434.4 C539.7,441.3 546.8,455.4 549.5,460 C552.1,464.6 554.6,468.9 556.4,471.5 C558.1,474.1 561.8,478.7 563.6,481 C565.3,483.3 568.7,487.8 570.5,489.9 C572.2,491.9 575.6,496.1 577.4,497.4 C579.1,498.7 582.8,499.8 584.6,500 C586.3,500.3 588.8,499.8 591.5,499.4 C594.1,499 602.1,498.1 605.6,496.8 C609.1,495.4 615.9,489.9 619.4,488.6 C622.9,487.2 630,487.3 633.5,485.9 C637,484.6 644.1,480.1 647.6,477.7 C651.1,475.4 657.9,469.8 661.4,467.2 C664.9,464.7 672,459.8 675.5,457.4 C679,455 686.1,450.4 689.6,448.2 C693.1,445.9 699.9,441.7 703.4,439.3 C706.9,437 714.7,430.9 717.5,429.5 C720.2,428.1 723.6,428.7 725.4,428.2 C727.2,427.6 730.6,425.8 731.9,424.9 C733.3,424 730.6,425.8 736.2,420.9 C741.8,416 770.2,391.3 776.6,385.7 C783,380 785.3,377.7 787.5,375.8 C789.8,374 792.8,372.4 794.5,370.8 C796.3,369.2 798.9,365.6 801.5,362.7 C804.2,359.8 812,351.6 815.5,347.4 C819,343.1 826,333.3 829.5,328.8 C833,324.3 840,315.2 843.5,311.3 C847,307.3 854,300.2 857.5,297.1 C861.1,293.9 868.1,288.4 871.6,286.1 C875.1,283.8 882.1,279.9 885.6,278.5 C889.1,277 896.1,275.3 899.6,274.5 C903.1,273.8 910.9,272.8 913.6,272.3 C916.2,271.9 918.8,270.9 920.6,270.8 C922.3,270.7 925.8,271.2 927.6,271.5 C929.3,271.7 932.8,272.4 934.6,273 C936.3,273.5 939.8,275.1 941.6,275.8 C943.3,276.6 946.8,278.2 948.6,278.9 C950.3,279.6 953,280 955.6,281.1 C958.2,282.1 965.2,284.5 969.6,287.2 C974,289.9 985.3,299.4 990.6,302.7 C995.8,306 1007.2,311.5 1011.6,313.6 C1016,315.7 1022.1,318.5 1025.6,319.5 C1029.1,320.6 1036.1,321.5 1039.6,321.9 C1043.1,322.4 1050.1,322.5 1053.6,322.8 C1057.1,323.2 1065,324.4 1067.6,324.6 C1070.2,324.8 1072.8,324.8 1074.6,324.6 C1076.3,324.4 1079,323.3 1081.6,322.8 C1084.2,322.3 1092.1,321.6 1095.6,320.6 C1099.1,319.6 1106.1,316.6 1109.6,314.7 C1113.1,312.9 1120.1,308.2 1123.6,306 C1127.1,303.8 1135,298.5 1137.6,297.2 C1140.2,295.9 1142.9,296.2 1144.6,295.5 C1146.4,294.7 1149,292.9 1151.6,291.3 C1154.2,289.8 1162.1,285 1165.6,283 C1169.1,281 1176.1,277.1 1179.6,275.3 C1183.1,273.6 1191.1,270.3 1193.6,269.2 C1196.2,268.1 1196.5,268.3 1200,266.8 C1203.5,265.3 1216.1,260.2 1221.4,257.4 C1226.8,254.6 1237.2,247.1 1242.5,244.3 C1247.7,241.4 1259.1,237 1263.5,234.4 C1267.8,231.8 1274.8,225.7 1277.5,223.5 C1280.1,221.3 1281.8,218.6 1284.5,216.9 C1287.1,215.2 1295.8,211.4 1298.5,209.9 C1301.1,208.4 1303.7,205.7 1305.5,204.9 C1307.2,204 1310.7,203.4 1312.5,203.1 C1314.2,202.9 1316.8,202.7 1319.5,202.7 C1322.1,202.7 1330,203.3 1333.5,203.3 C1337,203.3 1344,203.2 1347.5,202.7 C1351,202.2 1358.9,200 1361.5,199.4 C1364.1,198.9 1366.7,198.2 1368.5,198.3 C1370.2,198.5 1373.7,199.9 1375.5,200.5 C1377.2,201.1 1379.9,202.8 1382.5,203.3 C1385.1,203.9 1393,204.7 1396.5,204.9 C1400,205.1 1407.9,204.5 1410.5,204.9 C1413.1,205.3 1415.8,207.5 1417.5,208.2 C1419.3,208.8 1421.9,210.1 1424.5,210.4 C1427.1,210.6 1435,210 1438.5,209.9 C1442,209.8 1449,209.9 1452.5,209.3 C1456,208.6 1463.9,205.8 1466.5,204.9 C1469.1,204 1470.9,203 1473.5,201.8 C1476.2,200.7 1483.1,197.2 1487.5,195.7 C1491.9,194.2 1504.1,191.5 1508.5,189.7 C1512.9,188 1518.1,184 1522.5,181.9 C1526.8,179.8 1539.1,174.8 1543.5,173 C1547.8,171.2 1553.9,169 1557.4,167.4 C1560.9,165.8 1568.1,161.5 1571.6,160.4 C1575.1,159.2 1582,159.3 1585.5,158.5 C1589,157.7 1596,155 1599.5,154 C1603,153.1 1609.9,151.5 1613.4,151.1 C1616.9,150.6 1624.9,151 1627.6,150.7 C1630.2,150.4 1631.8,149.2 1634.4,148.8 C1637.1,148.4 1645.1,147.5 1648.6,147.3 C1652.1,147.2 1659.9,147.2 1662.5,147.3 C1665.1,147.5 1666.8,147.8 1669.4,148.5 C1672,149.1 1679.2,150.6 1683.5,152.2 C1687.9,153.8 1701.8,160.1 1704.4,161.3" fill="none" stroke="#000" stroke-width="2"/>
<path d="M17.5,393.6 C19.3,393.3 28.9,391.8 31.5,391.4 C34.1,391.1 37.6,391 38.5,391" fill="none" stroke="#ff0000" stroke-width="3" stroke-dasharray="9 4"/>
<path d="M38.5,391 C40.3,390.2 48.1,386.6 52.5,384.4 C56.9,382.2 69.1,375.8 73.5,373.5 C77.9,371.2 84.9,367.4 87.5,365.8 C90.2,364.3 92.8,362.8 94.5,361 C96.3,359.2 99.7,353.6 101.5,351.6 C103.4,349.6 107.3,346 109.4,345 C111.5,344 116.5,343.6 118.2,343.5 C119.8,343.4 122,344.5 122.5,344.6" fill="none" stroke="#008000" stroke-width="3" stroke-dasharray="9 4"/>
<path d="M122.5,344.6 C123.4,344.8 127.4,346 129.5,346.6 C131.7,347.1 136.5,348.3 140,348.8 C143.5,349.2 154,349.8 157.5,350.1 C161.1,350.4 166.7,351.1 168.5,351.2 C170.2,351.2 171.2,350.6 171.6,350.5" fill="none" stroke="#ff0000" stroke-width="3" stroke-dasharray="9 4"/>
<path d="M171.6,350.5 C172.4,350 176.8,347.2 178.6,346.6 C180.3,345.9 183.8,345.5 185.6,345.5 C187.3,345.4 191.7,346 192.6,346.1" fill="none" stroke="#008000" stroke-width="3" stroke-dasharray="9 4"/>
<path d="M192.6,346.1 C193.4,346.3 197.8,347.2 199.6,347.2 C201.3,347.3 205.7,346.6 206.6,346.6" fill="none" stroke="#ff0000" stroke-width="3" stroke-dasharray="9 4"/>
<path d="M206.6,346.6 C208.3,346 217.4,342.7 220.6,341.8 C223.7,340.8 230.2,339.2 231.9,338.9 C233.7,338.6 234.2,339.5 234.6,339.6" fill="none" stroke="#008000" stroke-width="3" stroke-dasharray="9 4"/>
<path d="M234.6,339.6 C235.4,340.2 239.8,343.8 241.6,345 C243.3,346.3 246.8,348.6 248.6,349.4 C250.3,350.2 253.8,351.3 255.6,351.6 C257.3,351.9 260.8,351.5 262.6,351.6 C264.3,351.7 268.7,352 269.6,352" fill="none" stroke="#ff0000" stroke-width="3" stroke-dasharray="9 4"/>
<path d="M269.6,352 C270.5,351.4 274,349.4 276.6,347.2 C279.2,345 287.1,337.1 290.6,334.4 C294.1,331.7 301.1,327.9 304.6,325.7 C308.1,323.5 316,318.3 318.6,316.9 C321.2,315.5 323.8,315.9 325.6,314.3 C327.3,312.6 330.8,306.2 332.6,303.8 C334.3,301.4 337,297.4 339.6,295 C342.2,292.7 350.1,287.2 353.6,285.2 C357.1,283.2 365,280 367.6,279.1 C370.2,278.1 373.1,277.7 374.6,277.5 C376.1,277.4 378.8,277.9 379.4,278" fill="none" stroke="#008000" stroke-width="3" stroke-dasharray="9 4"/>
<path d="M379.4,278 C379.7,278 379.6,278 381.6,278.6 C383.6,279.3 393,281.9 395.6,283 C398.2,284.1 400,285.9 402.6,287.4 C405.2,288.9 414,293.7 416.6,295 C419.2,296.4 421,297.8 423.6,298.3 C426.2,298.9 435.3,298.2 437.6,299.4 C439.9,300.6 440.9,306.5 441.8,308.2 C442.6,309.8 443.4,309.1 444.6,312.5 C445.8,316 449.6,330.1 451.3,335.9 C453.1,341.7 456.8,353.4 458.6,358.9 C460.3,364.5 463.7,375.3 465.4,380.3 C467.2,385.2 470.6,394.2 472.3,398.3 C474.1,402.4 476.9,408.7 479.6,413.1 C482.2,417.4 489.9,428.3 493.3,433.1 C496.8,437.9 503.9,447 507.5,451.5 C511,455.9 518.1,464.8 521.6,468.9 C525.1,472.9 532.7,481.2 535.3,483.6 C538,486.1 540.8,487.5 542.6,488.6 C544.3,489.6 547.7,490.7 549.5,491.8 C551.2,492.9 554.6,496.4 556.4,497.4 C558.1,498.4 561.8,499.7 563.6,500 C565.3,500.4 569.1,500.2 570.5,500 C571.8,499.9 573.9,498.9 574.4,498.7" fill="none" stroke="#ff0000" stroke-width="3" stroke-dasharray="9 4"/>
<path d="M574.4,498.7 C574.8,498.4 576.1,497.5 577.4,496.1 C578.6,494.8 582.8,489.9 584.6,487.9 C586.3,485.9 589.7,481.8 591.5,480.4 C593.2,478.9 596.6,476.9 598.4,476.1 C600.1,475.3 603.8,474.7 605.6,473.8 C607.3,472.9 610.8,470.1 612.5,468.9 C614.2,467.6 617.6,465 619.4,463.9 C621.1,462.9 624.8,461.3 626.6,460.7 C628.4,460 631.8,459.6 633.5,459 C635.2,458.4 638.6,456.9 640.4,455.7 C642.1,454.6 645.8,451.3 647.6,449.8 C649.4,448.3 652.8,444.9 654.5,443.6 C656.2,442.3 658.7,440.5 661.4,439.3 C664,438.2 672,435.3 675.5,434.4 C679,433.5 686.1,432.6 689.6,432.4 C693.1,432.2 700.8,432.9 703.4,432.8 C706,432.6 708.8,432.1 710.6,431.1 C712.4,430.2 715.8,426.7 717.5,425.2 C719.2,423.8 722.7,420.9 724.4,419.6 C726,418.4 728.9,417.3 730.6,415 C732.4,412.7 736.7,404 738.5,401 C740.4,398 743.8,393.7 745.5,391.1 C747.3,388.6 750.8,382.5 752.5,380.2 C754.3,377.9 756.9,375.4 759.5,372.5 C762.1,369.7 770.9,359.7 773.5,357.2 C776.1,354.7 778.8,354.2 780.5,352.4 C782.3,350.6 785.8,345.4 787.5,343 C789.3,340.6 792.8,335.6 794.5,333.2 C796.3,330.7 798.9,326.3 801.5,323.3 C804.2,320.3 812,312.8 815.5,309.1 C819,305.4 826.9,296.1 829.5,293.8 C832.2,291.4 834.8,291.2 836.5,290.5 C838.3,289.8 840.9,289 843.5,287.9 C846.2,286.8 854,283.2 857.5,281.7 C861.1,280.3 868.9,277.1 871.6,276.3 C874.2,275.4 876.8,275.2 878.6,275.2 C880.3,275.1 883.8,275.9 885.6,275.8 C887.3,275.7 891.1,274.7 892.6,274.5 C894,274.4 896.1,274.4 896.9,274.5 C897.8,274.6 899.2,275.1 899.6,275.2" fill="none" stroke="#008000" stroke-width="3" stroke-dasharray="9 4"/>
<path d="M899.6,275.2 C900.4,275.4 904.8,277 906.6,277.4 C908.3,277.8 910.9,278.2 913.6,278.5 C916.2,278.7 924.9,278.9 927.6,279.6 C930.2,280.2 932.8,282.6 934.6,283.9 C936.3,285.3 939.8,288.9 941.6,290.5 C943.3,292.1 946.8,296 948.6,297.1 C950.3,298.2 953.8,298.7 955.6,299.2 C957.3,299.8 960.8,300.5 962.6,301.4 C964.3,302.4 967.8,305.5 969.6,306.9 C971.3,308.3 974.8,310.9 976.6,312.5 C978.3,314.2 981.8,318.6 983.6,320.2 C985.3,321.8 988.8,324.7 990.6,325.7 C992.3,326.6 994.9,327.4 997.6,327.9 C1000.2,328.3 1008.5,329.2 1011.6,329.4 C1014.7,329.6 1020.8,329.4 1022.5,329.4 C1024.3,329.4 1025.2,329.4 1025.6,329.4" fill="none" stroke="#ff0000" stroke-width="3" stroke-dasharray="9 4"/>
<path d="M1025.6,329.4 C1026.5,329.3 1030.8,329.2 1032.6,328.3 C1034.3,327.4 1037.8,323.7 1039.6,322.4 C1041.3,321.1 1044.8,319 1046.6,318 C1048.3,317.1 1051,315.5 1053.6,314.7 C1056.2,314 1064.1,312.7 1067.6,312.1 C1071.1,311.5 1079,310.3 1081.6,309.9 C1084.2,309.6 1086.8,309.6 1088.6,309.3 C1090.4,308.9 1093.9,308.4 1095.6,307.1 C1097.4,305.7 1100.9,300.1 1102.6,298.3 C1104.4,296.5 1107,294.2 1109.6,292.8 C1112.2,291.5 1120.1,288.6 1123.6,287.4 C1127.1,286.1 1135.9,283.5 1137.6,283" fill="none" stroke="#008000" stroke-width="3" stroke-dasharray="9 4"/>
<path d="M1137.6,283 L1144.6,287.8" fill="none" stroke="#ff0000" stroke-width="3" stroke-dasharray="9 4"/>
<path d="M1144.6,287.8 C1145.5,287.1 1149,283.7 1151.6,281.9 C1154.2,280.1 1163,274.9 1165.6,273.2 C1168.2,271.4 1170.9,269.2 1172.6,267.7 C1174.4,266.2 1177.9,262.6 1179.6,261.1 C1181.4,259.6 1184.9,256.9 1186.6,255.6 C1188.4,254.4 1192,252.1 1193.6,251.3 C1195.3,250.4 1197.2,249.7 1199.8,249.1 C1202.4,248.5 1210.9,246.9 1214.4,246.5 C1218,246 1225.8,246.6 1228.4,245.4 C1231.1,244.1 1233.7,238.8 1235.4,236.6 C1237.2,234.4 1240.7,229.6 1242.5,227.9 C1244.2,226.1 1246.8,223.6 1249.5,222.4 C1252.1,221.2 1260.8,219 1263.5,218 C1266.1,217.1 1268.7,216.1 1270.5,214.7 C1272.2,213.4 1275.7,208.8 1277.5,207.1 C1279.2,205.3 1281.8,202.1 1284.5,200.5 C1287.1,198.9 1295.8,195.2 1298.5,193.9 C1301.1,192.7 1304.6,191.1 1305.5,190.7" fill="none" stroke="#008000" stroke-width="3" stroke-dasharray="9 4"/>
<path d="M1305.5,190.7 C1306.3,190.9 1310.7,192 1312.5,192.8 C1314.2,193.7 1317.7,196.1 1319.5,197.2 C1321.2,198.3 1323.9,200.2 1326.5,201.6 C1329.1,203 1337,207 1340.5,208.2 C1344,209.3 1351,210.7 1354.5,211 C1358,211.4 1365.9,210.8 1368.5,211 C1371.1,211.2 1373.7,212 1375.5,212.5 C1377.2,213.1 1380.7,214.7 1382.5,215.2 C1384.2,215.7 1387.7,216.3 1389.5,216.5 C1391.2,216.6 1394.7,216.6 1396.5,216.5 C1398.2,216.3 1402.6,215.5 1403.5,215.4" fill="none" stroke="#ff0000" stroke-width="3" stroke-dasharray="9 4"/>
<path d="M1403.5,215.4 C1404.4,215 1408.8,213.2 1410.5,212.5 C1412.3,211.9 1414.9,210.6 1417.5,210.4 C1420.1,210.1 1428.9,211 1431.5,210.4 C1434.1,209.7 1436.8,206.4 1438.5,204.9 C1440.3,203.4 1442.9,199.7 1445.5,198.3 C1448.1,196.9 1456.6,194.8 1459.5,193.9 C1462.5,193 1466.5,192.4 1469.1,191.1 C1471.8,189.8 1477.2,184.7 1480.4,183.2 C1483.6,181.8 1491,180.4 1494.6,179.5 C1498.1,178.6 1505,177.2 1508.5,176.2 C1512,175.1 1518.1,172.2 1522.5,171.1 C1526.8,170.1 1540,168.2 1543.5,167.4 C1547,166.6 1548.8,165.6 1550.5,164.6 C1552.3,163.7 1555.7,161.3 1557.4,160 C1559.2,158.7 1562.7,155.4 1564.5,154.4 C1566.3,153.4 1569.8,152.5 1571.6,152 C1573.3,151.5 1576.7,151 1578.4,150.3 C1580.2,149.6 1583.7,147.1 1585.5,146.6 C1587.3,146.1 1590.8,146.4 1592.6,146.6 C1594.3,146.8 1596.9,147.7 1599.5,147.9 C1602.1,148.1 1609.9,148 1613.4,147.9 C1616.9,147.8 1624.9,147.6 1627.6,147.3 C1630.2,147.1 1632.9,146 1634.4,146 C1636,146 1639.3,147 1640.2,147.3 C1641.1,147.6 1641.3,148.3 1641.5,148.5" fill="none" stroke="#008000" stroke-width="3" stroke-dasharray="9 4"/>
<path d="M1641.5,148.5 C1642.4,148.7 1646.8,150.6 1648.6,150.7 C1650.3,150.8 1653.7,149.3 1655.5,149.2 C1657.2,149.1 1660.8,149 1662.5,149.8 C1664.3,150.5 1667.7,153.5 1669.4,155 C1671.1,156.4 1673.8,159.4 1676.5,161.3 C1679.1,163.2 1686.9,168.2 1690.4,170.2 C1693.9,172.2 1702.6,176.2 1704.4,177.1" fill="none" stroke="#ff0000" stroke-width="3" stroke-dasharray="9 4"/>
<circle cx="45.5" cy="347.2" r="4" fill="#6495ed" stroke="#000" stroke-width="1"/>
<circle cx="66.5" cy="325.3" r="4" fill="#6495ed" stroke="#000" stroke-width="1"/>
<circle cx="108.5" cy="278.3" r="4" fill="#6495ed" stroke="#000" stroke-width="1"/>
<circle cx="227.5" cy="276.1" r="4" fill="#6495ed" stroke="#000" stroke-width="1"/>
<circle cx="255.5" cy="394.7" r="4" fill="#6495ed" stroke="#000" stroke-width="1"/>
<circle cx="290.5" cy="268.4" r="4" fill="#6495ed" stroke="#000" stroke-width="1"/>
<circle cx="332.5" cy="203.6" r="4" fill="#6495ed" stroke="#000" stroke-width="1"/>
<circle cx="472.5" cy="537.1" r="4" fill="#6495ed" stroke="#000" stroke-width="1"/>
<circle cx="535.5" cy="541.4" r="4" fill="#6495ed" stroke="#000" stroke-width="1"/>
<circle cx="563.5" cy="568.3" r="4" fill="#6495ed" stroke="#000" stroke-width="1"/>
<circle cx="661.5" cy="388.1" r="4" fill="#6495ed" stroke="#000" stroke-width="1"/>
<circle cx="745.5" cy="307.3" r="4" fill="#6495ed" stroke="#000" stroke-width="1"/>
<circle cx="759.5" cy="282.4" r="4" fill="#6495ed" stroke="#000" stroke-width="1"/>
<circle cx="787.5" cy="254.4" r="4" fill="#6495ed" stroke="#000" stroke-width="1"/>
<circle cx="829.5" cy="248.5" r="4" fill="#6495ed" stroke="#000" stroke-width="1"/>
<circle cx="871.5" cy="242.4" r="4" fill="#6495ed" stroke="#000" stroke-width="1"/>
<circle cx="948.5" cy="355.3" r="4" fill="#6495ed" stroke="#000" stroke-width="1"/>
<circle cx="1102.5" cy="220.2" r="4" fill="#6495ed" stroke="#000" stroke-width="1"/>
<circle cx="1179.5" cy="213" r="4" fill="#6495ed" stroke="#000" stroke-width="1"/>
<circle cx="1235.5" cy="165.5" r="4" fill="#6495ed" stroke="#000" stroke-width="1"/>
<circle cx="1277.5" cy="137.5" r="4" fill="#6495ed" stroke="#000" stroke-width="1"/>
<circle cx="1445.5" cy="128.5" r="4" fill="#6495ed" stroke="#000" stroke-width="1"/>
<circle cx="1571.5" cy="120.4" r="4" fill="#6495ed" stroke="#000" stroke-width="1"/>
<circle cx="1592.5" cy="120.4" r="4" fill="#6495ed" stroke="#000" stroke-width="1"/>
<circle cx="1683.5" cy="209.6" r="4" fill="#6495ed" stroke="#000" stroke-width="1"/>
<circle cx="1697.5" cy="211.5" r="4" fill="#6495ed" stroke="#000" stroke-width="1"/>
<path d="M120.5,260.5 h4 v14.5 h3 l-5,6 l-5,-6 h3 z" fill="#ff0000" stroke="#200000" stroke-width="1"/>
<path d="M232.5,270.5 h4 v14.5 h3 l-5,6 l-5,-6 h3 z" fill="#ff0000" stroke="#200000" stroke-width="1"/>
<path d="M372.5,196.5 h4 v14.5 h3 l-5,6 l-5,-6 h3 z" fill="#ff0000" stroke="#200000" stroke-width="1"/>
<path d="M680.5,357.5 h4 v14.5 h3 l-5,6 l-5,-6 h3 z" fill="#ff0000" stroke="#200000" stroke-width="1"/>
<path d="M834.5,214.5 h4 v14.5 h3 l-5,6 l-5,-6 h3 z" fill="#ff0000" stroke="#200000" stroke-width="1"/>
<path d="M1079.5,255.5 h4 v14.5 h3 l-5,6 l-5,-6 h3 z" fill="#ff0000" stroke="#200000" stroke-width="1"/>
<path d="M1135.5,210.5 h4 v14.5 h3 l-5,6 l-5,-6 h3 z" fill="#ff0000" stroke="#200000" stroke-width="1"/>
<path d="M1212.5,174.5 h4 v14.5 h3 l-5,6 l-5,-6 h3 z" fill="#ff0000" stroke="#200000" stroke-width="1"/>
<path d="M1303.5,112.5 h4 v14.5 h3 l-5,6 l-5,-6 h3 z" fill="#ff0000" stroke="#200000" stroke-width="1"/>
<path d="M1499.5,100.5 h4 v14.5 h3 l-5,6 l-5,-6 h3 z" fill="#ff0000" stroke="#200000" stroke-width="1"/>
<path d="M1590.5,89.5 h4 v14.5 h3 l-5,6 l-5,-6 h3 z" fill="#ff0000" stroke="#200000" stroke-width="1"/>
<path d="M31.5,415.5 l5,6 h-3 v14.5 h-4 v-14.5 h-3 z" fill="#008000" stroke="#100010" stroke-width="1"/>
<path d="M178.5,393.5 l5,6 h-3 v14.5 h-4 v-14.5 h-3 z" fill="#008000" stroke="#100010" stroke-width="1"/>
<path d="M269.5,414.5 l5,6 h-3 v14.5 h-4 v-14.5 h-3 z" fill="#008000" stroke="#100010" stroke-width="1"/>
<path d="M521.5,549.5 l5,6 h-3 v14.5 h-4 v-14.5 h-3 z" fill="#008000" stroke="#100010" stroke-width="1"/>
<path d="M710.5,460.5 l5,6 h-3 v14.5 h-4 v-14.5 h-3 z" fill="#008000" stroke="#100010" stroke-width="1"/>
<path d="M1088.5,340.5 l5,6 h-3 v14.5 h-4 v-14.5 h-3 z" fill="#008000" stroke="#100010" stroke-width="1"/>
<path d="M1151.5,344.5 l5,6 h-3 v14.5 h-4 v-14.5 h-3 z" fill="#008000" stroke="#100010" stroke-width="1"/>
<path d="M1228.5,270.5 l5,6 h-3 v14.5 h-4 v-14.5 h-3 z" fill="#008000" stroke="#100010" stroke-width="1"/>
<path d="M1382.5,261.5 l5,6 h-3 v14.5 h-4 v-14.5 h-3 z" fill="#008000" stroke="#100010" stroke-width="1"/>
<path d="M1508.5,212.5 l5,6 h-3 v14.5 h-4 v-14.5 h-3 z" fill="#008000" stroke="#100010" stroke-width="1"/>
<line x1="9" y1="235.5" x2="1711.5" y2="235.5" stroke="#000"/>
<line x1="512.5" y1="60" x2="512.5" y2="856" stroke="#000"/>
<line x1="9" y1="607.5" x2="1787" y2="607.5" stroke="#000"/>
<line x1="9" y1="774.5" x2="1787" y2="774.5" stroke="#000"/>
<line x1="9" y1="855.5" x2="1711.5" y2="855.5" stroke="#000"/>
<line x1="1711.5" y1="60" x2="1711.5" y2="856" stroke="#000"/>
<rect x="1547.5" y="581.5" width="158" height="16" fill="rgba(255,0,0,.5)" stroke="#ff1c1c"/>
<text x="1549.5" y="593.6" font-size="13" font-family="Liberation Sans, sans-serif" fill="#111" textLength="148" lengthAdjust="spacingAndGlyphs">Market Direction: Bearish</text>
<line x1="1711.5" y1="86.5" x2="1717" y2="86.5" stroke="#000"/>
<text x="1719" y="91.4" font-size="11" font-family="Liberation Sans, sans-serif" fill="#000">1,3640</text>
<line x1="1711.5" y1="126.5" x2="1717" y2="126.5" stroke="#000"/>
<text x="1719" y="130.9" font-size="11" font-family="Liberation Sans, sans-serif" fill="#000">1,3620</text>
<line x1="1711.5" y1="165.5" x2="1717" y2="165.5" stroke="#000"/>
<text x="1719" y="170.4" font-size="11" font-family="Liberation Sans, sans-serif" fill="#000">1,3600</text>
<line x1="1711.5" y1="205.5" x2="1717" y2="205.5" stroke="#000"/>
<text x="1719" y="209.8" font-size="11" font-family="Liberation Sans, sans-serif" fill="#000">1,3580</text>
<line x1="1711.5" y1="244.5" x2="1717" y2="244.5" stroke="#000"/>
<text x="1719" y="249.3" font-size="11" font-family="Liberation Sans, sans-serif" fill="#000">1,3560</text>
<line x1="1711.5" y1="284.5" x2="1717" y2="284.5" stroke="#000"/>
<text x="1719" y="288.8" font-size="11" font-family="Liberation Sans, sans-serif" fill="#000">1,3540</text>
<line x1="1711.5" y1="323.5" x2="1717" y2="323.5" stroke="#000"/>
<text x="1719" y="328.3" font-size="11" font-family="Liberation Sans, sans-serif" fill="#000">1,3520</text>
<line x1="1711.5" y1="363.5" x2="1717" y2="363.5" stroke="#000"/>
<text x="1719" y="367.8" font-size="11" font-family="Liberation Sans, sans-serif" fill="#000">1,3500</text>
<line x1="1711.5" y1="402.5" x2="1717" y2="402.5" stroke="#000"/>
<text x="1719" y="407.2" font-size="11" font-family="Liberation Sans, sans-serif" fill="#000">1,3480</text>
<line x1="1711.5" y1="442.5" x2="1717" y2="442.5" stroke="#000"/>
<text x="1719" y="446.7" font-size="11" font-family="Liberation Sans, sans-serif" fill="#000">1,3460</text>
<line x1="1711.5" y1="481.5" x2="1717" y2="481.5" stroke="#000"/>
<text x="1719" y="486.2" font-size="11" font-family="Liberation Sans, sans-serif" fill="#000">1,3440</text>
<line x1="1711.5" y1="521.5" x2="1717" y2="521.5" stroke="#000"/>
<text x="1719" y="525.7" font-size="11" font-family="Liberation Sans, sans-serif" fill="#000">1,3420</text>
<line x1="1711.5" y1="560.5" x2="1717" y2="560.5" stroke="#000"/>
<text x="1719" y="565.2" font-size="11" font-family="Liberation Sans, sans-serif" fill="#000">1,3400</text>
<line x1="1711.5" y1="600.5" x2="1717" y2="600.5" stroke="#000"/>
<text x="1719" y="604.6" font-size="11" font-family="Liberation Sans, sans-serif" fill="#000">1,3380</text>
<line x1="1711.5" y1="628.5" x2="1717" y2="628.5" stroke="#000"/>
<text x="1719" y="632.4" font-size="11" font-family="Liberation Sans, sans-serif" fill="#000">0,002</text>
<line x1="1711.5" y1="656.5" x2="1717" y2="656.5" stroke="#000"/>
<text x="1719" y="660.2" font-size="11" font-family="Liberation Sans, sans-serif" fill="#000">0,001</text>
<line x1="1711.5" y1="711.5" x2="1717" y2="711.5" stroke="#000"/>
<text x="1719" y="715.8" font-size="11" font-family="Liberation Sans, sans-serif" fill="#000">-0,001</text>
<line x1="1711.5" y1="739.5" x2="1717" y2="739.5" stroke="#000"/>
<text x="1719" y="743.6" font-size="11" font-family="Liberation Sans, sans-serif" fill="#000">-0,002</text>
<line x1="1711.5" y1="767.5" x2="1717" y2="767.5" stroke="#000"/>
<text x="1719" y="771.4" font-size="11" font-family="Liberation Sans, sans-serif" fill="#000">-0,003</text>
<path d="M1712.5,161 l6,-6.5 h37 v13 h-37 z" fill="#000"/><text x="1720.0" y="165.1" font-size="11" font-family="Liberation Sans, sans-serif" fill="#fff">1,3602</text>
<path d="M1712.5,191.5 l6,-6.5 h37 v13 h-37 z" fill="#000"/><text x="1720.0" y="195.6" font-size="11" font-family="Liberation Sans, sans-serif" fill="#fff">1,3587</text>
<path d="M1712.5,177 l6,-6.5 h37 v13 h-37 z" fill="#ff0000"/><text x="1720.0" y="181.1" font-size="11" font-family="Liberation Sans, sans-serif" fill="#fff">1,3594</text>
<path d="M1712.5,236.5 l6,-6.5 h64 v13 h-64 z" fill="#d3d3d3" stroke="#555"/><text x="1720.0" y="240.6" font-size="11" font-family="Liberation Sans, sans-serif" fill="#000">1,3565</text>
<path d="M1712.5,691 l6,-6.5 h53 v13 h-53 z" fill="#ff0000" stroke="#000"/><text x="1720.0" y="695.1" font-size="11" font-family="Liberation Sans, sans-serif" fill="#fff"></text>
<path d="M1712.5,685 l6,-6.5 h59 v13 h-59 z" fill="#20b2aa" stroke="#000"/><text x="1720.0" y="689.1" font-size="11" font-family="Liberation Sans, sans-serif" fill="#000">-0,0000936</text>
<path d="M1712.5,701.2 l6,-6.5 h53 v13 h-53 z" fill="#ff0000" stroke="#000"/><text x="1720.0" y="705.3" font-size="11" font-family="Liberation Sans, sans-serif" fill="#fff">-0,000646</text>
<path d="M1712.5,783.2 l6,-6.5 h17 v13 h-17 z" fill="#808080" stroke="#000"/><text x="1720.0" y="787.3" font-size="11" font-family="Liberation Sans, sans-serif" fill="#000">1,7</text>
<path d="M1712.5,811 l6,-6.5 h8 v13 h-8 z" fill="#ff0000" stroke="#000"/><text x="1720.0" y="815.1" font-size="11" font-family="Liberation Sans, sans-serif" fill="#fff">1</text>
<path d="M1712.5,830 l6,-6.5 h17 v13 h-17 z" fill="#008000" stroke="#000"/><text x="1720.0" y="834.1" font-size="11" font-family="Liberation Sans, sans-serif" fill="#fff">0,5</text>
<path d="M1712.5,850 l6,-6.5 h8 v13 h-8 z" fill="#008000" stroke="#000"/><text x="1720.0" y="854.1" font-size="11" font-family="Liberation Sans, sans-serif" fill="#fff">0</text>
<line x1="136.5" y1="856" x2="136.5" y2="861" stroke="#000"/>
<text x="135.8" y="872" font-size="11" font-family="Liberation Sans, sans-serif" fill="#000" text-anchor="middle">11/19</text>
<line x1="304.5" y1="856" x2="304.5" y2="861" stroke="#000"/>
<text x="303.8" y="872" font-size="11" font-family="Liberation Sans, sans-serif" fill="#000" text-anchor="middle">11/20</text>
<line x1="472.5" y1="856" x2="472.5" y2="861" stroke="#000"/>
<text x="471.8" y="872" font-size="11" font-family="Liberation Sans, sans-serif" fill="#000" text-anchor="middle">11/21</text>
<line x1="640.5" y1="856" x2="640.5" y2="861" stroke="#000"/>
<text x="639.8" y="872" font-size="11" font-family="Liberation Sans, sans-serif" fill="#000" text-anchor="middle">11/22</text>
<line x1="808.5" y1="856" x2="808.5" y2="861" stroke="#000"/>
<text x="807.8" y="872" font-size="11" font-family="Liberation Sans, sans-serif" fill="#000" text-anchor="middle">11/23</text>
<line x1="1011.5" y1="856" x2="1011.5" y2="861" stroke="#000"/>
<text x="1010.8" y="872" font-size="11" font-family="Liberation Sans, sans-serif" fill="#000" text-anchor="middle">11/26</text>
<line x1="1179.5" y1="856" x2="1179.5" y2="861" stroke="#000"/>
<text x="1178.8" y="872" font-size="11" font-family="Liberation Sans, sans-serif" fill="#000" text-anchor="middle">11/27</text>
<line x1="1347.5" y1="856" x2="1347.5" y2="861" stroke="#000"/>
<text x="1346.8" y="872" font-size="11" font-family="Liberation Sans, sans-serif" fill="#000" text-anchor="middle">11/28</text>
<line x1="1515.5" y1="856" x2="1515.5" y2="861" stroke="#000"/>
<text x="1514.8" y="872" font-size="11" font-family="Liberation Sans, sans-serif" fill="#000" text-anchor="middle">11/29</text>
<line x1="1683.5" y1="856" x2="1683.5" y2="861" stroke="#000"/>
<text x="1682.8" y="872" font-size="11" font-family="Liberation Sans, sans-serif" fill="#000" text-anchor="middle">11/30</text>
<line x1="836.5" y1="856" x2="836.5" y2="861" stroke="#000"/>
<line x1="843.5" y1="856" x2="843.5" y2="861" stroke="#000"/>
<rect x="497" y="861" width="31" height="13.5" fill="#d3d3d3"/>
<text x="512.5" y="872" font-size="11" font-family="Liberation Sans, sans-serif" fill="#000" text-anchor="middle">06:00</text>
<text x="11.8" y="71" font-size="11" font-family="Liberation Sans, sans-serif" fill="#111" textLength="124.4" lengthAdjust="spacing">eVoTP_EntriesAlgorithm</text><text x="136.6" y="71" font-size="11" font-family="Liberation Sans, sans-serif" fill="#111" textLength="55.6" lengthAdjust="spacing">($EURUSD</text><text x="195.7" y="71" font-size="11" font-family="Liberation Sans, sans-serif" fill="#111" textLength="45.5" lengthAdjust="spacing">(60 Min)),</text><text x="245.8" y="71" font-size="11" font-family="Liberation Sans, sans-serif" fill="#111" textLength="172" lengthAdjust="spacing">eVoTP_CrossAndMarketDirection</text><text x="418.2" y="71" font-size="11" font-family="Liberation Sans, sans-serif" fill="#111" textLength="51.6" lengthAdjust="spacing">($EURUSD</text><text x="472.4" y="71" font-size="11" font-family="Liberation Sans, sans-serif" fill="#111" textLength="37.6" lengthAdjust="spacing">(60 Min))</text>
<text x="11.8" y="629" font-size="11" font-family="Liberation Sans, sans-serif" fill="#111" textLength="110.2" lengthAdjust="spacing">eVoTP_CustomMACD</text><text x="122.3" y="629" font-size="11" font-family="Liberation Sans, sans-serif" fill="#111" textLength="55.1" lengthAdjust="spacing">($EURUSD</text><text x="181.8" y="629" font-size="11" font-family="Liberation Sans, sans-serif" fill="#111" textLength="107.7" lengthAdjust="spacing">(60 Min),12,1,30,26,9)</text>
<text x="11.8" y="796" font-size="11" font-family="Liberation Sans, sans-serif" fill="#111" textLength="142.4" lengthAdjust="spacing">eVoTP_TrendHeatDetection</text><text x="154.6" y="796" font-size="11" font-family="Liberation Sans, sans-serif" fill="#111" textLength="55.2" lengthAdjust="spacing">($EURUSD</text><text x="213.2" y="796" font-size="11" font-family="Liberation Sans, sans-serif" fill="#111" textLength="137.1" lengthAdjust="spacing">(60 Min),14,2,618,14,42,280)</text>
<text x="10.8" y="853" font-size="11" font-family="Liberation Sans, sans-serif" fill="#111" textLength="123.5" lengthAdjust="spacing">© 2013 NinjaTrader, LLC</text></svg>

<div style="position:absolute;left:8px;top:883px;width:1779px;height:22px;background:#ebebeb;border-top:1px solid #dcdcdc;box-sizing:border-box"></div>
<div style="position:absolute;left:195px;top:883px;width:1572px;height:19.5px;border:1px solid #9a9a9a;border-radius:3px;background:linear-gradient(#f0f0f0,#e7e7e7 34%,#d5d5d7 35%,#cbcbcd 100%);box-shadow:inset 0 0 0 1px rgba(255,255,255,.45)"></div>
<div style="position:absolute;left:978px;top:890px;width:7px;height:7px;background:repeating-linear-gradient(90deg,#444 0 1px,transparent 1px 3px)"></div>
<div style="position:absolute;left:13.5px;top:889.5px;width:0;height:0;border-top:3.5px solid transparent;border-bottom:3.5px solid transparent;border-right:4.5px solid #444"></div>
<div style="position:absolute;left:1776.5px;top:889.5px;width:0;height:0;border-top:3.5px solid transparent;border-bottom:3.5px solid transparent;border-left:4.5px solid #444"></div>


<div style="position:absolute;left:736px;top:385px;width:320px;height:141px;border:1px solid #1a1a1a;border-radius:6px 6px 1px 1px;background:#f0f0f0;box-shadow:inset 0 0 0 1px #bfe6f7;overflow:hidden">
 <div style="position:absolute;left:1px;top:0px;right:1px;height:24px;background:linear-gradient(#9ab3d3,#a9c1de 50%,#bbd2eb)"></div>
 <svg style="left:5px;top:6px" width="16" height="13" viewBox="0 0 16 13"><path d="M1.4,10.4 C-0.4,4.5 3,0.6 5.6,1.6 C7.6,2.6 6.6,7 7.4,10.6" fill="none" stroke="#9d8276" stroke-width="1.7" opacity=".9"/><path d="M3,9.5 C2.4,6 3.6,3.4 5,3" fill="none" stroke="#b9a79e" stroke-width="1" opacity=".8"/><path d="M6.6,1.6 C8,4.5 8.8,8.5 10,10.8 C12.4,9 14.6,5 13,1.4 C13,5 11.6,7.6 10.4,8.4 C9.6,6 8.8,3 6.6,1.6 Z" fill="#cc2a32" stroke="#cc2a32" stroke-width=".6"/></svg>
 <div style="position:absolute;left:24px;top:5px;font-size:12px;line-height:16px;color:#000;white-space:pre">Load Chart Template</div>
 <div style="position:absolute;left:285px;top:4px;width:29px;height:15px;border:1px solid #8e4a4a;border-radius:3px;background:linear-gradient(#e9a99c,#d9786a 45%,#c9402e 55%,#d98a72);box-shadow:inset 0 0 0 1px rgba(255,255,255,.4)"><svg style="left:9px;top:3px" width="12" height="10" viewBox="0 0 12 10"><path d="M1.5,1 L10.5,9 M10.5,1 L1.5,9" stroke="#6a3030" stroke-width="3.4"/><path d="M1.5,1 L10.5,9 M10.5,1 L1.5,9" stroke="#fff" stroke-width="1.8"/></svg></div>
 <div style="position:absolute;left:33px;top:50px;font-size:12px;letter-spacing:-0.6px;line-height:16px;color:#000">Name:</div>
 <div style="position:absolute;left:97px;top:48px;width:188px;height:18px;border:1px solid #2c628b;border-radius:2px;background:linear-gradient(#eaf6fd,#d9f0fc 45%,#80bbe3 52%,#a8d8f3);box-shadow:inset 0 0 0 1px rgba(255,255,255,.5)">
   <div style="position:absolute;left:3px;top:1px;font-size:12px;letter-spacing:-0.55px;line-height:16px;color:#000">eVo D1</div>
   <div style="position:absolute;left:177px;top:8px;width:0;height:0;border-left:3.5px solid transparent;border-right:3.5px solid transparent;border-top:4px solid #444"></div>
 </div>
 <div style="position:absolute;left:286px;top:102px;width:9px;height:18px;border:1px solid #8a8a8a;border-left:none;border-radius:0 3px 3px 0;background:linear-gradient(#f4f4f4,#e2e2e2)"></div>
 <div style="position:absolute;left:97px;top:69px;width:189px;height:53px;background:#fff;border:1px solid #e0e0e0;border-top:none;box-sizing:border-box;font-size:12px;letter-spacing:-0.55px;line-height:13px;color:#000">
   <div style="padding-left:1px;height:13px;line-height:15px;overflow:hidden">eVo D1</div><div style="padding-left:1px;height:13px;line-height:15px;overflow:hidden;background:#3399ff;color:#fff">eVo H1</div><div style="padding-left:1px;height:13px;line-height:15px;overflow:hidden">eVo M15</div><div style="padding-left:1px;height:13px;line-height:15px;overflow:hidden">eVo M5</div>
 </div>
 <div style="position:absolute;left:25px;top:102px;width:63px;height:17px;border:1px solid #2a7fa8;border-radius:3px;background:linear-gradient(#f2f2f2,#ebebeb 48%,#dcdcdc 52%,#cfcfcf);box-shadow:inset 0 0 0 1px #45c7f5;font-size:12.5px;line-height:17px;text-align:center;color:#000">OK</div>
</div>
<div style="position:absolute;left:934px;top:385px;width:430px;height:160px;border:1px solid #6b6b6b;background:rgba(255,255,255,.55);box-shadow:4px 4px 6px rgba(0,0,0,.22);font-family:'DejaVu Sans','Liberation Sans',sans-serif;font-weight:bold;font-style:italic;color:#7b7b7b;text-shadow:1px 1px 1px rgba(0,0,0,.15);white-space:pre">
 <div id="w1" style="position:absolute;left:31px;top:21px;font-size:17.5px;line-height:24px;letter-spacing:-0.22px">www.trading-software-collection.com</div>
 <div id="w2" style="position:absolute;left:100px;top:67px;font-size:17.5px;line-height:24px;letter-spacing:-0.45px">andreybbrv@gmail.com</div>
 <div id="w3" style="position:absolute;left:126px;top:113px;font-size:17.5px;line-height:24px;letter-spacing:-0.45px">skype: andreybbrv</div>
</div>

</body></html>
